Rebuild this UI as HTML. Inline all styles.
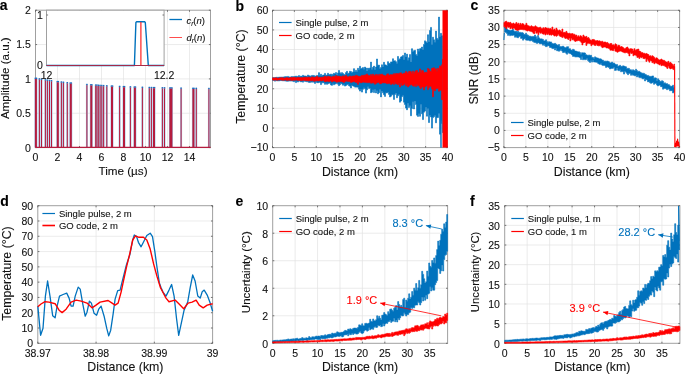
<!DOCTYPE html>
<html><head><meta charset="utf-8"><title>Figure</title>
<style>
html,body{margin:0;padding:0;background:#fff;}
svg{display:block;font-family:"Liberation Sans",sans-serif;filter:blur(0.3px);}
</style></head>
<body>
<svg width="685" height="374" viewBox="0 0 685 374">
<rect x="0" y="0" width="685" height="374" fill="#fff"/>
<line x1="57.5" y1="10.2" x2="57.5" y2="147.6" stroke="#e3e3e3" stroke-width="0.7" />
<line x1="79.5" y1="10.2" x2="79.5" y2="147.6" stroke="#e3e3e3" stroke-width="0.7" />
<line x1="101.5" y1="10.2" x2="101.5" y2="147.6" stroke="#e3e3e3" stroke-width="0.7" />
<line x1="123.49" y1="10.2" x2="123.49" y2="147.6" stroke="#e3e3e3" stroke-width="0.7" />
<line x1="145.49" y1="10.2" x2="145.49" y2="147.6" stroke="#e3e3e3" stroke-width="0.7" />
<line x1="167.49" y1="10.2" x2="167.49" y2="147.6" stroke="#e3e3e3" stroke-width="0.7" />
<line x1="189.49" y1="10.2" x2="189.49" y2="147.6" stroke="#e3e3e3" stroke-width="0.7" />
<line x1="35.5" y1="113.25" x2="210.5" y2="113.25" stroke="#e3e3e3" stroke-width="0.7" />
<line x1="35.5" y1="78.9" x2="210.5" y2="78.9" stroke="#e3e3e3" stroke-width="0.7" />
<line x1="35.5" y1="44.55" x2="210.5" y2="44.55" stroke="#e3e3e3" stroke-width="0.7" />
<rect x="35.5" y="10.2" width="175" height="137.4" fill="none" stroke="#a0a0a0" stroke-width="1"/>
<line x1="35.5" y1="147.6" x2="35.5" y2="146" stroke="#555" stroke-width="0.8" />
<line x1="35.5" y1="10.2" x2="35.5" y2="11.8" stroke="#555" stroke-width="0.8" />
<line x1="57.5" y1="147.6" x2="57.5" y2="146" stroke="#555" stroke-width="0.8" />
<line x1="57.5" y1="10.2" x2="57.5" y2="11.8" stroke="#555" stroke-width="0.8" />
<line x1="79.5" y1="147.6" x2="79.5" y2="146" stroke="#555" stroke-width="0.8" />
<line x1="79.5" y1="10.2" x2="79.5" y2="11.8" stroke="#555" stroke-width="0.8" />
<line x1="101.5" y1="147.6" x2="101.5" y2="146" stroke="#555" stroke-width="0.8" />
<line x1="101.5" y1="10.2" x2="101.5" y2="11.8" stroke="#555" stroke-width="0.8" />
<line x1="123.49" y1="147.6" x2="123.49" y2="146" stroke="#555" stroke-width="0.8" />
<line x1="123.49" y1="10.2" x2="123.49" y2="11.8" stroke="#555" stroke-width="0.8" />
<line x1="145.49" y1="147.6" x2="145.49" y2="146" stroke="#555" stroke-width="0.8" />
<line x1="145.49" y1="10.2" x2="145.49" y2="11.8" stroke="#555" stroke-width="0.8" />
<line x1="167.49" y1="147.6" x2="167.49" y2="146" stroke="#555" stroke-width="0.8" />
<line x1="167.49" y1="10.2" x2="167.49" y2="11.8" stroke="#555" stroke-width="0.8" />
<line x1="189.49" y1="147.6" x2="189.49" y2="146" stroke="#555" stroke-width="0.8" />
<line x1="189.49" y1="10.2" x2="189.49" y2="11.8" stroke="#555" stroke-width="0.8" />
<line x1="35.5" y1="147.6" x2="37.1" y2="147.6" stroke="#555" stroke-width="0.8" />
<line x1="210.5" y1="147.6" x2="208.9" y2="147.6" stroke="#555" stroke-width="0.8" />
<line x1="35.5" y1="113.25" x2="37.1" y2="113.25" stroke="#555" stroke-width="0.8" />
<line x1="210.5" y1="113.25" x2="208.9" y2="113.25" stroke="#555" stroke-width="0.8" />
<line x1="35.5" y1="78.9" x2="37.1" y2="78.9" stroke="#555" stroke-width="0.8" />
<line x1="210.5" y1="78.9" x2="208.9" y2="78.9" stroke="#555" stroke-width="0.8" />
<line x1="35.5" y1="44.55" x2="37.1" y2="44.55" stroke="#555" stroke-width="0.8" />
<line x1="210.5" y1="44.55" x2="208.9" y2="44.55" stroke="#555" stroke-width="0.8" />
<line x1="35.5" y1="10.2" x2="37.1" y2="10.2" stroke="#555" stroke-width="0.8" />
<line x1="210.5" y1="10.2" x2="208.9" y2="10.2" stroke="#555" stroke-width="0.8" />
<rect x="34.4" y="77.88" width="3" height="69.72" fill="#a9c9ea"/>
<rect x="34.7" y="77.58" width="2.4" height="1.4" fill="#1f6fbf"/>
<rect x="38.4" y="78.49" width="2" height="69.11" fill="#a9c9ea"/>
<rect x="38.7" y="78.19" width="1.4" height="1.4" fill="#1f6fbf"/>
<rect x="40.5" y="78.85" width="2" height="68.75" fill="#a9c9ea"/>
<rect x="40.8" y="78.55" width="1.4" height="1.4" fill="#1f6fbf"/>
<rect x="44.4" y="79.47" width="2" height="68.13" fill="#a9c9ea"/>
<rect x="44.7" y="79.17" width="1.4" height="1.4" fill="#1f6fbf"/>
<rect x="46.4" y="79.77" width="2" height="67.83" fill="#a9c9ea"/>
<rect x="46.7" y="79.47" width="1.4" height="1.4" fill="#1f6fbf"/>
<rect x="48.5" y="80.08" width="2" height="67.52" fill="#a9c9ea"/>
<rect x="48.8" y="79.78" width="1.4" height="1.4" fill="#1f6fbf"/>
<rect x="50.5" y="80.36" width="2" height="67.24" fill="#a9c9ea"/>
<rect x="50.8" y="80.06" width="1.4" height="1.4" fill="#1f6fbf"/>
<rect x="56.3" y="81.19" width="3" height="66.41" fill="#a9c9ea"/>
<rect x="56.6" y="80.89" width="2.4" height="1.4" fill="#1f6fbf"/>
<rect x="60.4" y="81.63" width="2" height="65.97" fill="#a9c9ea"/>
<rect x="60.7" y="81.33" width="1.4" height="1.4" fill="#1f6fbf"/>
<rect x="62.4" y="81.86" width="2" height="65.74" fill="#a9c9ea"/>
<rect x="62.7" y="81.56" width="1.4" height="1.4" fill="#1f6fbf"/>
<rect x="66.3" y="82.29" width="2" height="65.31" fill="#a9c9ea"/>
<rect x="66.6" y="81.99" width="1.4" height="1.4" fill="#1f6fbf"/>
<rect x="69.3" y="82.65" width="3" height="64.95" fill="#a9c9ea"/>
<rect x="69.6" y="82.35" width="2.4" height="1.4" fill="#1f6fbf"/>
<rect x="85.9" y="84.08" width="2" height="63.52" fill="#a9c9ea"/>
<rect x="86.2" y="83.78" width="1.4" height="1.4" fill="#1f6fbf"/>
<rect x="89.8" y="84.4" width="3" height="63.2" fill="#a9c9ea"/>
<rect x="90.1" y="84.1" width="2.4" height="1.4" fill="#1f6fbf"/>
<rect x="94.7" y="84.71" width="2" height="62.89" fill="#a9c9ea"/>
<rect x="95" y="84.41" width="1.4" height="1.4" fill="#1f6fbf"/>
<rect x="95.9" y="84.79" width="2" height="62.81" fill="#a9c9ea"/>
<rect x="96.2" y="84.49" width="1.4" height="1.4" fill="#1f6fbf"/>
<rect x="97.3" y="84.88" width="2" height="62.72" fill="#a9c9ea"/>
<rect x="97.6" y="84.58" width="1.4" height="1.4" fill="#1f6fbf"/>
<rect x="99.1" y="84.99" width="2" height="62.61" fill="#a9c9ea"/>
<rect x="99.4" y="84.69" width="1.4" height="1.4" fill="#1f6fbf"/>
<rect x="100.8" y="85.09" width="2" height="62.51" fill="#a9c9ea"/>
<rect x="101.1" y="84.79" width="1.4" height="1.4" fill="#1f6fbf"/>
<rect x="102.6" y="85.2" width="2" height="62.4" fill="#a9c9ea"/>
<rect x="102.9" y="84.9" width="1.4" height="1.4" fill="#1f6fbf"/>
<rect x="105.8" y="85.38" width="2" height="62.22" fill="#a9c9ea"/>
<rect x="106.1" y="85.08" width="1.4" height="1.4" fill="#1f6fbf"/>
<rect x="110.5" y="85.66" width="3" height="61.94" fill="#a9c9ea"/>
<rect x="110.8" y="85.36" width="2.4" height="1.4" fill="#1f6fbf"/>
<rect x="118.6" y="86.02" width="2" height="61.58" fill="#a9c9ea"/>
<rect x="118.9" y="85.72" width="1.4" height="1.4" fill="#1f6fbf"/>
<rect x="122.5" y="86.21" width="3" height="61.39" fill="#a9c9ea"/>
<rect x="122.8" y="85.91" width="2.4" height="1.4" fill="#1f6fbf"/>
<rect x="129.4" y="86.46" width="2" height="61.14" fill="#a9c9ea"/>
<rect x="129.7" y="86.16" width="1.4" height="1.4" fill="#1f6fbf"/>
<rect x="133.4" y="86.62" width="3" height="60.98" fill="#a9c9ea"/>
<rect x="133.7" y="86.32" width="2.4" height="1.4" fill="#1f6fbf"/>
<rect x="141.4" y="86.87" width="2" height="60.73" fill="#a9c9ea"/>
<rect x="141.7" y="86.57" width="1.4" height="1.4" fill="#1f6fbf"/>
<rect x="148.3" y="87.07" width="2" height="60.53" fill="#a9c9ea"/>
<rect x="148.6" y="86.77" width="1.4" height="1.4" fill="#1f6fbf"/>
<rect x="150.4" y="87.12" width="2" height="60.48" fill="#a9c9ea"/>
<rect x="150.7" y="86.82" width="1.4" height="1.4" fill="#1f6fbf"/>
<rect x="152.5" y="87.19" width="3" height="60.41" fill="#a9c9ea"/>
<rect x="152.8" y="86.89" width="2.4" height="1.4" fill="#1f6fbf"/>
<rect x="161.4" y="87.39" width="2" height="60.21" fill="#a9c9ea"/>
<rect x="161.7" y="87.09" width="1.4" height="1.4" fill="#1f6fbf"/>
<rect x="163.5" y="87.43" width="2" height="60.17" fill="#a9c9ea"/>
<rect x="163.8" y="87.13" width="1.4" height="1.4" fill="#1f6fbf"/>
<rect x="168.9" y="87.56" width="4" height="60.04" fill="#a9c9ea"/>
<rect x="169.2" y="87.26" width="3.4" height="1.4" fill="#1f6fbf"/>
<rect x="180.1" y="87.74" width="2" height="59.86" fill="#a9c9ea"/>
<rect x="180.4" y="87.44" width="1.4" height="1.4" fill="#1f6fbf"/>
<rect x="191.9" y="87.92" width="3" height="59.68" fill="#a9c9ea"/>
<rect x="192.2" y="87.62" width="2.4" height="1.4" fill="#1f6fbf"/>
<rect x="195.3" y="87.95" width="2" height="59.65" fill="#a9c9ea"/>
<rect x="195.6" y="87.65" width="1.4" height="1.4" fill="#1f6fbf"/>
<rect x="207.9" y="88.09" width="2" height="59.51" fill="#a9c9ea"/>
<rect x="208.2" y="87.79" width="1.4" height="1.4" fill="#1f6fbf"/>
<rect x="34.9" y="78.98" width="2" height="68.62" fill="#b51c3e"/>
<rect x="38.9" y="79.59" width="1" height="68.01" fill="#b51c3e"/>
<rect x="41" y="79.95" width="1" height="67.65" fill="#b51c3e"/>
<rect x="44.9" y="80.57" width="1" height="67.03" fill="#b51c3e"/>
<rect x="46.9" y="80.87" width="1" height="66.73" fill="#b51c3e"/>
<rect x="49" y="81.18" width="1" height="66.42" fill="#b51c3e"/>
<rect x="51" y="81.46" width="1" height="66.14" fill="#b51c3e"/>
<rect x="56.8" y="82.29" width="2" height="65.31" fill="#b51c3e"/>
<rect x="60.9" y="82.73" width="1" height="64.87" fill="#b51c3e"/>
<rect x="62.9" y="82.96" width="1" height="64.64" fill="#b51c3e"/>
<rect x="66.8" y="83.39" width="1" height="64.21" fill="#b51c3e"/>
<rect x="69.8" y="83.75" width="2" height="63.85" fill="#b51c3e"/>
<rect x="86.4" y="85.18" width="1" height="62.42" fill="#b51c3e"/>
<rect x="90.3" y="85.5" width="2" height="62.1" fill="#b51c3e"/>
<rect x="95.2" y="85.81" width="1" height="61.79" fill="#b51c3e"/>
<rect x="96.4" y="85.89" width="1" height="61.71" fill="#b51c3e"/>
<rect x="97.8" y="85.98" width="1" height="61.62" fill="#b51c3e"/>
<rect x="99.6" y="86.09" width="1" height="61.51" fill="#b51c3e"/>
<rect x="101.3" y="86.19" width="1" height="61.41" fill="#b51c3e"/>
<rect x="103.1" y="86.3" width="1" height="61.3" fill="#b51c3e"/>
<rect x="106.3" y="86.48" width="1" height="61.12" fill="#b51c3e"/>
<rect x="111" y="86.76" width="2" height="60.84" fill="#b51c3e"/>
<rect x="119.1" y="87.12" width="1" height="60.48" fill="#b51c3e"/>
<rect x="123" y="87.31" width="2" height="60.29" fill="#b51c3e"/>
<rect x="129.9" y="87.56" width="1" height="60.04" fill="#b51c3e"/>
<rect x="133.9" y="87.72" width="2" height="59.88" fill="#b51c3e"/>
<rect x="141.9" y="87.97" width="1" height="59.63" fill="#b51c3e"/>
<rect x="148.8" y="88.17" width="1" height="59.43" fill="#b51c3e"/>
<rect x="150.9" y="88.22" width="1" height="59.38" fill="#b51c3e"/>
<rect x="153" y="88.29" width="2" height="59.31" fill="#b51c3e"/>
<rect x="161.9" y="88.49" width="1" height="59.11" fill="#b51c3e"/>
<rect x="164" y="88.53" width="1" height="59.07" fill="#b51c3e"/>
<rect x="169.4" y="88.66" width="3" height="58.94" fill="#b51c3e"/>
<rect x="180.6" y="88.84" width="1" height="58.76" fill="#b51c3e"/>
<rect x="192.4" y="89.02" width="2" height="58.58" fill="#b51c3e"/>
<rect x="195.8" y="89.05" width="1" height="58.55" fill="#b51c3e"/>
<rect x="208.4" y="89.19" width="1" height="58.41" fill="#b51c3e"/>
<line x1="35.5" y1="147.4" x2="210.5" y2="147.4" stroke="#b51c3e" stroke-width="1.2" />
<text x="35.5" y="161" font-size="10.5" text-anchor="middle" fill="#111" stroke="#111" stroke-width="0.1" font-weight="normal" >0</text>
<text x="57.5" y="161" font-size="10.5" text-anchor="middle" fill="#111" stroke="#111" stroke-width="0.1" font-weight="normal" >2</text>
<text x="79.5" y="161" font-size="10.5" text-anchor="middle" fill="#111" stroke="#111" stroke-width="0.1" font-weight="normal" >4</text>
<text x="101.5" y="161" font-size="10.5" text-anchor="middle" fill="#111" stroke="#111" stroke-width="0.1" font-weight="normal" >6</text>
<text x="123.49" y="161" font-size="10.5" text-anchor="middle" fill="#111" stroke="#111" stroke-width="0.1" font-weight="normal" >8</text>
<text x="145.49" y="161" font-size="10.5" text-anchor="middle" fill="#111" stroke="#111" stroke-width="0.1" font-weight="normal" >10</text>
<text x="167.49" y="161" font-size="10.5" text-anchor="middle" fill="#111" stroke="#111" stroke-width="0.1" font-weight="normal" >12</text>
<text x="189.49" y="161" font-size="10.5" text-anchor="middle" fill="#111" stroke="#111" stroke-width="0.1" font-weight="normal" >14</text>
<text x="30.9" y="152.05" font-size="10.5" text-anchor="end" fill="#111" stroke="#111" stroke-width="0.1" font-weight="normal" >0</text>
<text x="30.9" y="117.48" font-size="10.5" text-anchor="end" fill="#111" stroke="#111" stroke-width="0.1" font-weight="normal" >0.5</text>
<text x="30.9" y="82.9" font-size="10.5" text-anchor="end" fill="#111" stroke="#111" stroke-width="0.1" font-weight="normal" >1</text>
<text x="30.9" y="48.33" font-size="10.5" text-anchor="end" fill="#111" stroke="#111" stroke-width="0.1" font-weight="normal" >1.5</text>
<text x="30.9" y="13.75" font-size="10.5" text-anchor="end" fill="#111" stroke="#111" stroke-width="0.1" font-weight="normal" >2</text>
<text x="9.2" y="78.2" font-size="11.6" text-anchor="middle" fill="#111" stroke="#111" stroke-width="0.1" font-weight="normal" transform="rotate(-90 9.2 78.2)">Amplitude (a.u.)</text>
<text x="123" y="175" font-size="11.7" text-anchor="middle" fill="#111" stroke="#111" stroke-width="0.1" font-weight="normal" >Time (µs)</text>
<text x="-0.3" y="10.4" font-size="14" text-anchor="start" fill="#000" stroke="#000" stroke-width="0.1" font-weight="bold" >a</text>
<rect x="46.5" y="10.2" width="117.6" height="55.3" fill="#fff" stroke="#a0a0a0" stroke-width="1"/>
<line x1="46.5" y1="15" x2="48.1" y2="15" stroke="#555" stroke-width="0.8" />
<line x1="164.1" y1="15" x2="162.5" y2="15" stroke="#555" stroke-width="0.8" />
<text x="42.8" y="18.8" font-size="10.5" text-anchor="end" fill="#111" stroke="#111" stroke-width="0.1" font-weight="normal" >1</text>
<text x="42.8" y="69.3" font-size="10.5" text-anchor="end" fill="#111" stroke="#111" stroke-width="0.1" font-weight="normal" >0</text>
<text x="46.5" y="79.3" font-size="10.5" text-anchor="middle" fill="#111" stroke="#111" stroke-width="0.1" font-weight="normal" >12</text>
<text x="164.1" y="79.3" font-size="10.5" text-anchor="middle" fill="#111" stroke="#111" stroke-width="0.1" font-weight="normal" >12.2</text>
<polyline points="46.5,65.5 134.4,65.5 135.9,22.5 136.6,21.7 144.6,21.7 145.3,22.5 148.3,65.5 164.1,65.5" fill="none" stroke="#0072bd" stroke-width="1.4" stroke-linejoin="round" />
<line x1="140.9" y1="65.5" x2="140.9" y2="22" stroke="#ff2020" stroke-width="1.2" />
<line x1="46.5" y1="65.5" x2="164.1" y2="65.5" stroke="#a52a4a" stroke-width="1.1" />
<line x1="169.4" y1="19.5" x2="182" y2="19.5" stroke="#0072bd" stroke-width="1.3" />
<line x1="169.4" y1="37.5" x2="182" y2="37.5" stroke="#ff4d4d" stroke-width="1.0" />
<text x="186.4" y="23.6" font-size="9.5" text-anchor="start" fill="#111" stroke="#111" stroke-width="0.1" font-weight="normal" ><tspan font-style="italic">c</tspan><tspan font-style="italic" font-size="6.5" dy="2">r</tspan><tspan dy="-2">(</tspan><tspan font-style="italic">n</tspan>)</text>
<text x="186.4" y="40.8" font-size="9.5" text-anchor="start" fill="#111" stroke="#111" stroke-width="0.1" font-weight="normal" ><tspan font-style="italic">d</tspan><tspan font-style="italic" font-size="6.5" dy="2">r</tspan><tspan dy="-2">(</tspan><tspan font-style="italic">n</tspan>)</text>
<line x1="294.38" y1="10.3" x2="294.38" y2="147.6" stroke="#e3e3e3" stroke-width="0.7" />
<line x1="316.25" y1="10.3" x2="316.25" y2="147.6" stroke="#e3e3e3" stroke-width="0.7" />
<line x1="338.12" y1="10.3" x2="338.12" y2="147.6" stroke="#e3e3e3" stroke-width="0.7" />
<line x1="360" y1="10.3" x2="360" y2="147.6" stroke="#e3e3e3" stroke-width="0.7" />
<line x1="381.88" y1="10.3" x2="381.88" y2="147.6" stroke="#e3e3e3" stroke-width="0.7" />
<line x1="403.75" y1="10.3" x2="403.75" y2="147.6" stroke="#e3e3e3" stroke-width="0.7" />
<line x1="425.62" y1="10.3" x2="425.62" y2="147.6" stroke="#e3e3e3" stroke-width="0.7" />
<line x1="272.5" y1="127.99" x2="447.5" y2="127.99" stroke="#e3e3e3" stroke-width="0.7" />
<line x1="272.5" y1="108.37" x2="447.5" y2="108.37" stroke="#e3e3e3" stroke-width="0.7" />
<line x1="272.5" y1="88.76" x2="447.5" y2="88.76" stroke="#e3e3e3" stroke-width="0.7" />
<line x1="272.5" y1="69.14" x2="447.5" y2="69.14" stroke="#e3e3e3" stroke-width="0.7" />
<line x1="272.5" y1="49.53" x2="447.5" y2="49.53" stroke="#e3e3e3" stroke-width="0.7" />
<line x1="272.5" y1="29.91" x2="447.5" y2="29.91" stroke="#e3e3e3" stroke-width="0.7" />
<rect x="272.5" y="10.3" width="175" height="137.3" fill="none" stroke="#a0a0a0" stroke-width="1"/>
<line x1="272.5" y1="147.6" x2="272.5" y2="146" stroke="#555" stroke-width="0.8" />
<line x1="272.5" y1="10.3" x2="272.5" y2="11.9" stroke="#555" stroke-width="0.8" />
<line x1="294.38" y1="147.6" x2="294.38" y2="146" stroke="#555" stroke-width="0.8" />
<line x1="294.38" y1="10.3" x2="294.38" y2="11.9" stroke="#555" stroke-width="0.8" />
<line x1="316.25" y1="147.6" x2="316.25" y2="146" stroke="#555" stroke-width="0.8" />
<line x1="316.25" y1="10.3" x2="316.25" y2="11.9" stroke="#555" stroke-width="0.8" />
<line x1="338.12" y1="147.6" x2="338.12" y2="146" stroke="#555" stroke-width="0.8" />
<line x1="338.12" y1="10.3" x2="338.12" y2="11.9" stroke="#555" stroke-width="0.8" />
<line x1="360" y1="147.6" x2="360" y2="146" stroke="#555" stroke-width="0.8" />
<line x1="360" y1="10.3" x2="360" y2="11.9" stroke="#555" stroke-width="0.8" />
<line x1="381.88" y1="147.6" x2="381.88" y2="146" stroke="#555" stroke-width="0.8" />
<line x1="381.88" y1="10.3" x2="381.88" y2="11.9" stroke="#555" stroke-width="0.8" />
<line x1="403.75" y1="147.6" x2="403.75" y2="146" stroke="#555" stroke-width="0.8" />
<line x1="403.75" y1="10.3" x2="403.75" y2="11.9" stroke="#555" stroke-width="0.8" />
<line x1="425.62" y1="147.6" x2="425.62" y2="146" stroke="#555" stroke-width="0.8" />
<line x1="425.62" y1="10.3" x2="425.62" y2="11.9" stroke="#555" stroke-width="0.8" />
<line x1="447.5" y1="147.6" x2="447.5" y2="146" stroke="#555" stroke-width="0.8" />
<line x1="447.5" y1="10.3" x2="447.5" y2="11.9" stroke="#555" stroke-width="0.8" />
<line x1="272.5" y1="147.6" x2="274.1" y2="147.6" stroke="#555" stroke-width="0.8" />
<line x1="447.5" y1="147.6" x2="445.9" y2="147.6" stroke="#555" stroke-width="0.8" />
<line x1="272.5" y1="127.99" x2="274.1" y2="127.99" stroke="#555" stroke-width="0.8" />
<line x1="447.5" y1="127.99" x2="445.9" y2="127.99" stroke="#555" stroke-width="0.8" />
<line x1="272.5" y1="108.37" x2="274.1" y2="108.37" stroke="#555" stroke-width="0.8" />
<line x1="447.5" y1="108.37" x2="445.9" y2="108.37" stroke="#555" stroke-width="0.8" />
<line x1="272.5" y1="88.76" x2="274.1" y2="88.76" stroke="#555" stroke-width="0.8" />
<line x1="447.5" y1="88.76" x2="445.9" y2="88.76" stroke="#555" stroke-width="0.8" />
<line x1="272.5" y1="69.14" x2="274.1" y2="69.14" stroke="#555" stroke-width="0.8" />
<line x1="447.5" y1="69.14" x2="445.9" y2="69.14" stroke="#555" stroke-width="0.8" />
<line x1="272.5" y1="49.53" x2="274.1" y2="49.53" stroke="#555" stroke-width="0.8" />
<line x1="447.5" y1="49.53" x2="445.9" y2="49.53" stroke="#555" stroke-width="0.8" />
<line x1="272.5" y1="29.91" x2="274.1" y2="29.91" stroke="#555" stroke-width="0.8" />
<line x1="447.5" y1="29.91" x2="445.9" y2="29.91" stroke="#555" stroke-width="0.8" />
<line x1="272.5" y1="10.3" x2="274.1" y2="10.3" stroke="#555" stroke-width="0.8" />
<line x1="447.5" y1="10.3" x2="445.9" y2="10.3" stroke="#555" stroke-width="0.8" />
<polygon points="272.5,77.66 273.5,77.66 273.5,77.47 274.5,77.47 274.5,77.59 275.5,77.59 275.5,77.41 276.5,77.41 276.5,77.18 277.5,77.18 277.5,77.62 278.5,77.62 278.5,77.12 279.5,77.12 279.5,77.27 280.5,77.27 280.5,77.02 281.5,77.02 281.5,77.18 282.5,77.18 282.5,77.04 283.5,77.04 283.5,76.95 284.5,76.95 284.5,76.66 285.5,76.66 285.5,76.61 286.5,76.61 286.5,76.71 287.5,76.71 287.5,76.38 288.5,76.38 288.5,77.04 289.5,77.04 289.5,76.92 290.5,76.92 290.5,76.91 291.5,76.91 291.5,76.44 292.5,76.44 292.5,76.95 293.5,76.95 293.5,76.55 294.5,76.55 294.5,76.43 295.5,76.43 295.5,76.12 296.5,76.12 296.5,76.42 297.5,76.42 297.5,76.44 298.5,76.44 298.5,75.62 299.5,75.62 299.5,76.78 300.5,76.78 300.5,76 301.5,76 301.5,76.58 302.5,76.58 302.5,75.3 303.5,75.3 303.5,75.9 304.5,75.9 304.5,75.97 305.5,75.97 305.5,76.05 306.5,76.05 306.5,76.54 307.5,76.54 307.5,74.99 308.5,74.99 308.5,75.67 309.5,75.67 309.5,75.93 310.5,75.93 310.5,76.13 311.5,76.13 311.5,75.47 312.5,75.47 312.5,75.4 313.5,75.4 313.5,75.57 314.5,75.57 314.5,76.35 315.5,76.35 315.5,75.89 316.5,75.89 316.5,75.46 317.5,75.46 317.5,75.49 318.5,75.49 318.5,72.66 319.5,72.66 319.5,75.39 320.5,75.39 320.5,74.26 321.5,74.26 321.5,76.02 322.5,76.02 322.5,75.11 323.5,75.11 323.5,75.05 324.5,75.05 324.5,73.38 325.5,73.38 325.5,75.28 326.5,75.28 326.5,75.07 327.5,75.07 327.5,73.29 328.5,73.29 328.5,74.45 329.5,74.45 329.5,74.42 330.5,74.42 330.5,73.99 331.5,73.99 331.5,75.29 332.5,75.29 332.5,74.14 333.5,74.14 333.5,73.31 334.5,73.31 334.5,74.12 335.5,74.12 335.5,72.57 336.5,72.57 336.5,75.12 337.5,75.12 337.5,72.94 338.5,72.94 338.5,70.43 339.5,70.43 339.5,72.7 340.5,72.7 340.5,73.63 341.5,73.63 341.5,72.61 342.5,72.61 342.5,73.48 343.5,73.48 343.5,74.34 344.5,74.34 344.5,75.1 345.5,75.1 345.5,72.62 346.5,72.62 346.5,71.33 347.5,71.33 347.5,73.78 348.5,73.78 348.5,73.01 349.5,73.01 349.5,71.17 350.5,71.17 350.5,71.48 351.5,71.48 351.5,73 352.5,73 352.5,71.89 353.5,71.89 353.5,68.69 354.5,68.69 354.5,71.77 355.5,71.77 355.5,70.36 356.5,70.36 356.5,71.85 357.5,71.85 357.5,68.28 358.5,68.28 358.5,69.89 359.5,69.89 359.5,66.33 360.5,66.33 360.5,69.01 361.5,69.01 361.5,68.26 362.5,68.26 362.5,67.59 363.5,67.59 363.5,69.33 364.5,69.33 364.5,67.06 365.5,67.06 365.5,68.01 366.5,68.01 366.5,70.94 367.5,70.94 367.5,68.12 368.5,68.12 368.5,69.22 369.5,69.22 369.5,67.93 370.5,67.93 370.5,62.1 371.5,62.1 371.5,69.44 372.5,69.44 372.5,67.32 373.5,67.32 373.5,66.11 374.5,66.11 374.5,69.85 375.5,69.85 375.5,66.98 376.5,66.98 376.5,58.98 377.5,58.98 377.5,65.2 378.5,65.2 378.5,65.1 379.5,65.1 379.5,68.86 380.5,68.86 380.5,67.47 381.5,67.47 381.5,64.8 382.5,64.8 382.5,67.03 383.5,67.03 383.5,62.3 384.5,62.3 384.5,64.87 385.5,64.87 385.5,65.02 386.5,65.02 386.5,66.01 387.5,66.01 387.5,61.65 388.5,61.65 388.5,63.22 389.5,63.22 389.5,63.47 390.5,63.47 390.5,61.88 391.5,61.88 391.5,62.01 392.5,62.01 392.5,58.76 393.5,58.76 393.5,60.88 394.5,60.88 394.5,60.67 395.5,60.67 395.5,61.65 396.5,61.65 396.5,63.61 397.5,63.61 397.5,56.45 398.5,56.45 398.5,59.84 399.5,59.84 399.5,58.78 400.5,58.78 400.5,56.93 401.5,56.93 401.5,56.59 402.5,56.59 402.5,55.47 403.5,55.47 403.5,59.75 404.5,59.75 404.5,52.97 405.5,52.97 405.5,57.04 406.5,57.04 406.5,54.13 407.5,54.13 407.5,60.31 408.5,60.31 408.5,57.72 409.5,57.72 409.5,54.56 410.5,54.56 410.5,61.92 411.5,61.92 411.5,48.69 412.5,48.69 412.5,51.72 413.5,51.72 413.5,50.65 414.5,50.65 414.5,50.37 415.5,50.37 415.5,54.5 416.5,54.5 416.5,55.86 417.5,55.86 417.5,49.03 418.5,49.03 418.5,51.28 419.5,51.28 419.5,48.72 420.5,48.72 420.5,48.38 421.5,48.38 421.5,46.99 422.5,46.99 422.5,49.69 423.5,49.69 423.5,44.39 424.5,44.39 424.5,40.87 425.5,40.87 425.5,41.71 426.5,41.71 426.5,43.05 427.5,43.05 427.5,34.76 428.5,34.76 428.5,42.01 429.5,42.01 429.5,30.44 430.5,30.44 430.5,27.41 431.5,27.41 431.5,44.43 432.5,44.43 432.5,37.16 433.5,37.16 433.5,39.81 434.5,39.81 434.5,42.32 435.5,42.32 435.5,31.11 436.5,31.11 436.5,38.34 437.5,38.34 437.5,39.52 438.5,39.52 438.5,17.12 439.5,17.12 439.5,36.7 440.5,36.7 440.5,33.37 441.5,33.37 441.5,35.74 442.5,35.74 442.5,46.11 442.69,46.11 442.69,132.76 442.5,132.76 442.5,123.44 441.5,123.44 441.5,120.8 440.5,120.8 440.5,134.16 439.5,134.16 439.5,113.43 438.5,113.43 438.5,117.54 437.5,117.54 437.5,117.66 436.5,117.66 436.5,122.83 435.5,122.83 435.5,115.5 434.5,115.5 434.5,116.81 433.5,116.81 433.5,117.6 432.5,117.6 432.5,128.1 431.5,128.1 431.5,116.98 430.5,116.98 430.5,115.62 429.5,115.62 429.5,122.56 428.5,122.56 428.5,108.39 427.5,108.39 427.5,116.18 426.5,116.18 426.5,107.25 425.5,107.25 425.5,111.1 424.5,111.1 424.5,112.16 423.5,112.16 423.5,119.56 422.5,119.56 422.5,113.85 421.5,113.85 421.5,104.13 420.5,104.13 420.5,116.29 419.5,116.29 419.5,113.74 418.5,113.74 418.5,116.4 417.5,116.4 417.5,115.18 416.5,115.18 416.5,104.51 415.5,104.51 415.5,101.05 414.5,101.05 414.5,108.98 413.5,108.98 413.5,101.65 412.5,101.65 412.5,108.52 411.5,108.52 411.5,115.79 410.5,115.79 410.5,105.87 409.5,105.87 409.5,107.52 408.5,107.52 408.5,103.34 407.5,103.34 407.5,109.79 406.5,109.79 406.5,108.08 405.5,108.08 405.5,104.5 404.5,104.5 404.5,102.15 403.5,102.15 403.5,95.51 402.5,95.51 402.5,96.65 401.5,96.65 401.5,101.03 400.5,101.03 400.5,102.15 399.5,102.15 399.5,94.43 398.5,94.43 398.5,95.85 397.5,95.85 397.5,97.78 396.5,97.78 396.5,93.07 395.5,93.07 395.5,94.46 394.5,94.46 394.5,99.43 393.5,99.43 393.5,94.76 392.5,94.76 392.5,94.8 391.5,94.8 391.5,96.22 390.5,96.22 390.5,96.98 389.5,96.98 389.5,94.42 388.5,94.42 388.5,92.08 387.5,92.08 387.5,92.97 386.5,92.97 386.5,92.83 385.5,92.83 385.5,96.38 384.5,96.38 384.5,94.64 383.5,94.64 383.5,92.85 382.5,92.85 382.5,91.06 381.5,91.06 381.5,96.88 380.5,96.88 380.5,89.51 379.5,89.51 379.5,92.64 378.5,92.64 378.5,93.77 377.5,93.77 377.5,90.74 376.5,90.74 376.5,92.96 375.5,92.96 375.5,89.17 374.5,89.17 374.5,92.62 373.5,92.62 373.5,89.63 372.5,89.63 372.5,92.18 371.5,92.18 371.5,92.69 370.5,92.69 370.5,88.34 369.5,88.34 369.5,88.44 368.5,88.44 368.5,86.71 367.5,86.71 367.5,89.86 366.5,89.86 366.5,93.12 365.5,93.12 365.5,88.76 364.5,88.76 364.5,87.65 363.5,87.65 363.5,89.24 362.5,89.24 362.5,92.11 361.5,92.11 361.5,89.33 360.5,89.33 360.5,91.09 359.5,91.09 359.5,89.19 358.5,89.19 358.5,87.3 357.5,87.3 357.5,87.12 356.5,87.12 356.5,87.13 355.5,87.13 355.5,87.1 354.5,87.1 354.5,86.3 353.5,86.3 353.5,85.9 352.5,85.9 352.5,85.21 351.5,85.21 351.5,87.96 350.5,87.96 350.5,86.18 349.5,86.18 349.5,85.65 348.5,85.65 348.5,84.04 347.5,84.04 347.5,84.82 346.5,84.82 346.5,85.38 345.5,85.38 345.5,86.1 344.5,86.1 344.5,84.43 343.5,84.43 343.5,85.27 342.5,85.27 342.5,84.01 341.5,84.01 341.5,83.33 340.5,83.33 340.5,84.65 339.5,84.65 339.5,85.67 338.5,85.67 338.5,84.18 337.5,84.18 337.5,82.63 336.5,82.63 336.5,83.85 335.5,83.85 335.5,84.1 334.5,84.1 334.5,84.8 333.5,84.8 333.5,83.81 332.5,83.81 332.5,85.37 331.5,85.37 331.5,84.95 330.5,84.95 330.5,83.18 329.5,83.18 329.5,83.17 328.5,83.17 328.5,83.75 327.5,83.75 327.5,84.36 326.5,84.36 326.5,83.42 325.5,83.42 325.5,84.36 324.5,84.36 324.5,82.63 323.5,82.63 323.5,82.83 322.5,82.83 322.5,82.85 321.5,82.85 321.5,84.62 320.5,84.62 320.5,82.42 319.5,82.42 319.5,82.18 318.5,82.18 318.5,82.89 317.5,82.89 317.5,82.5 316.5,82.5 316.5,81.85 315.5,81.85 315.5,83.41 314.5,83.41 314.5,82.26 313.5,82.26 313.5,81.76 312.5,81.76 312.5,82.27 311.5,82.27 311.5,81.67 310.5,81.67 310.5,82.52 309.5,82.52 309.5,82.41 308.5,82.41 308.5,81.77 307.5,81.77 307.5,81.87 306.5,81.87 306.5,81.39 305.5,81.39 305.5,81.38 304.5,81.38 304.5,80.64 303.5,80.64 303.5,82.18 302.5,82.18 302.5,81.52 301.5,81.52 301.5,81.93 300.5,81.93 300.5,81.27 299.5,81.27 299.5,80.66 298.5,80.66 298.5,82.06 297.5,82.06 297.5,81.57 296.5,81.57 296.5,82.61 295.5,82.61 295.5,80.94 294.5,80.94 294.5,81.66 293.5,81.66 293.5,81.19 292.5,81.19 292.5,80.89 291.5,80.89 291.5,81.06 290.5,81.06 290.5,81.07 289.5,81.07 289.5,80.93 288.5,80.93 288.5,81.23 287.5,81.23 287.5,81.29 286.5,81.29 286.5,81.09 285.5,81.09 285.5,80.94 284.5,80.94 284.5,80.76 283.5,80.76 283.5,80.83 282.5,80.83 282.5,80.68 281.5,80.68 281.5,80.53 280.5,80.53 280.5,80.65 279.5,80.65 279.5,80.95 278.5,80.95 278.5,80.75 277.5,80.75 277.5,80.92 276.5,80.92 276.5,80.28 275.5,80.28 275.5,81.13 274.5,81.13 274.5,80.35 273.5,80.35 273.5,80.58 272.5,80.58" fill="#0072bd" stroke="#0072bd" stroke-width="0.6" stroke-linejoin="round"/>
<polygon points="272.5,77.86 273.5,77.86 273.5,78.11 274.5,78.11 274.5,77.97 275.5,77.97 275.5,77.66 276.5,77.66 276.5,78.11 277.5,78.11 277.5,78.21 278.5,78.21 278.5,78.02 279.5,78.02 279.5,77.79 280.5,77.79 280.5,77.77 281.5,77.77 281.5,77.66 282.5,77.66 282.5,77.82 283.5,77.82 283.5,78.16 284.5,78.16 284.5,78.07 285.5,78.07 285.5,77.85 286.5,77.85 286.5,77.6 287.5,77.6 287.5,78.01 288.5,78.01 288.5,77.94 289.5,77.94 289.5,77.84 290.5,77.84 290.5,77.33 291.5,77.33 291.5,78.06 292.5,78.06 292.5,77.37 293.5,77.37 293.5,77.28 294.5,77.28 294.5,77.42 295.5,77.42 295.5,77.67 296.5,77.67 296.5,77.77 297.5,77.77 297.5,77.25 298.5,77.25 298.5,77.48 299.5,77.48 299.5,77.54 300.5,77.54 300.5,77.5 301.5,77.5 301.5,77.6 302.5,77.6 302.5,77.83 303.5,77.83 303.5,77.13 304.5,77.13 304.5,77.44 305.5,77.44 305.5,76.96 306.5,76.96 306.5,77.68 307.5,77.68 307.5,77.13 308.5,77.13 308.5,77.01 309.5,77.01 309.5,77.64 310.5,77.64 310.5,77.62 311.5,77.62 311.5,76.85 312.5,76.85 312.5,77.3 313.5,77.3 313.5,77.33 314.5,77.33 314.5,77.26 315.5,77.26 315.5,77.07 316.5,77.07 316.5,76.27 317.5,76.27 317.5,77.4 318.5,77.4 318.5,77.08 319.5,77.08 319.5,77.38 320.5,77.38 320.5,77.37 321.5,77.37 321.5,77.32 322.5,77.32 322.5,76.92 323.5,76.92 323.5,77.37 324.5,77.37 324.5,76.12 325.5,76.12 325.5,76.64 326.5,76.64 326.5,77.16 327.5,77.16 327.5,76.17 328.5,76.17 328.5,76.84 329.5,76.84 329.5,76.47 330.5,76.47 330.5,77.27 331.5,77.27 331.5,76.88 332.5,76.88 332.5,76.27 333.5,76.27 333.5,76.38 334.5,76.38 334.5,76.66 335.5,76.66 335.5,75.48 336.5,75.48 336.5,76.47 337.5,76.47 337.5,76.11 338.5,76.11 338.5,76.19 339.5,76.19 339.5,76.39 340.5,76.39 340.5,76.53 341.5,76.53 341.5,76.74 342.5,76.74 342.5,75.87 343.5,75.87 343.5,76.74 344.5,76.74 344.5,76.25 345.5,76.25 345.5,75.36 346.5,75.36 346.5,76.58 347.5,76.58 347.5,76.93 348.5,76.93 348.5,76.68 349.5,76.68 349.5,75.9 350.5,75.9 350.5,76.65 351.5,76.65 351.5,76.32 352.5,76.32 352.5,75.99 353.5,75.99 353.5,75.95 354.5,75.95 354.5,76.24 355.5,76.24 355.5,75.22 356.5,75.22 356.5,75.63 357.5,75.63 357.5,76.06 358.5,76.06 358.5,76.58 359.5,76.58 359.5,76.32 360.5,76.32 360.5,76.27 361.5,76.27 361.5,75.34 362.5,75.34 362.5,75.98 363.5,75.98 363.5,75.08 364.5,75.08 364.5,75.2 365.5,75.2 365.5,74.83 366.5,74.83 366.5,73.96 367.5,73.96 367.5,75.19 368.5,75.19 368.5,75.54 369.5,75.54 369.5,75.71 370.5,75.71 370.5,74.46 371.5,74.46 371.5,75.91 372.5,75.91 372.5,74.14 373.5,74.14 373.5,75.22 374.5,75.22 374.5,75.28 375.5,75.28 375.5,74.37 376.5,74.37 376.5,75.51 377.5,75.51 377.5,74.56 378.5,74.56 378.5,75.72 379.5,75.72 379.5,74.26 380.5,74.26 380.5,74.76 381.5,74.76 381.5,74.03 382.5,74.03 382.5,75.1 383.5,75.1 383.5,75.34 384.5,75.34 384.5,75.74 385.5,75.74 385.5,75.71 386.5,75.71 386.5,74.36 387.5,74.36 387.5,73.83 388.5,73.83 388.5,75.29 389.5,75.29 389.5,75.08 390.5,75.08 390.5,74.54 391.5,74.54 391.5,74.9 392.5,74.9 392.5,74.45 393.5,74.45 393.5,73.63 394.5,73.63 394.5,74.67 395.5,74.67 395.5,73.52 396.5,73.52 396.5,73.86 397.5,73.86 397.5,73.46 398.5,73.46 398.5,74.22 399.5,74.22 399.5,72.9 400.5,72.9 400.5,72.81 401.5,72.81 401.5,73.9 402.5,73.9 402.5,74.11 403.5,74.11 403.5,73.08 404.5,73.08 404.5,73.35 405.5,73.35 405.5,71.43 406.5,71.43 406.5,72.52 407.5,72.52 407.5,73.72 408.5,73.72 408.5,71.47 409.5,71.47 409.5,71.34 410.5,71.34 410.5,71.76 411.5,71.76 411.5,73.44 412.5,73.44 412.5,71.13 413.5,71.13 413.5,73.46 414.5,73.46 414.5,71.77 415.5,71.77 415.5,70.63 416.5,70.63 416.5,70.52 417.5,70.52 417.5,72.7 418.5,72.7 418.5,72.23 419.5,72.23 419.5,68.95 420.5,68.95 420.5,72.13 421.5,72.13 421.5,70.39 422.5,70.39 422.5,70.63 423.5,70.63 423.5,72.55 424.5,72.55 424.5,72.83 425.5,72.83 425.5,72.07 426.5,72.07 426.5,73.12 427.5,73.12 427.5,68.45 428.5,68.45 428.5,69.3 429.5,69.3 429.5,71 430.5,71 430.5,71.69 431.5,71.69 431.5,68.41 432.5,68.41 432.5,68.08 433.5,68.08 433.5,67.66 434.5,67.66 434.5,69.34 435.5,69.34 435.5,68.82 436.5,68.82 436.5,71.21 437.5,71.21 437.5,68.18 438.5,68.18 438.5,69.54 439.5,69.54 439.5,65.9 440.5,65.9 440.5,66.45 441.5,66.45 441.5,64.85 442.5,64.85 442.5,59.17 442.69,59.17 442.69,96.12 442.5,96.12 442.5,99.71 441.5,99.71 441.5,90.4 440.5,90.4 440.5,89.95 439.5,89.95 439.5,91.24 438.5,91.24 438.5,88.07 437.5,88.07 437.5,88.63 436.5,88.63 436.5,88.38 435.5,88.38 435.5,90.76 434.5,90.76 434.5,89.69 433.5,89.69 433.5,96.74 432.5,96.74 432.5,88.9 431.5,88.9 431.5,86.55 430.5,86.55 430.5,86.12 429.5,86.12 429.5,87.81 428.5,87.81 428.5,89.57 427.5,89.57 427.5,85.41 426.5,85.41 426.5,86.1 425.5,86.1 425.5,87 424.5,87 424.5,89.95 423.5,89.95 423.5,87 422.5,87 422.5,86.9 421.5,86.9 421.5,88.58 420.5,88.58 420.5,87.28 419.5,87.28 419.5,85.57 418.5,85.57 418.5,85.79 417.5,85.79 417.5,84.5 416.5,84.5 416.5,86.57 415.5,86.57 415.5,84.63 414.5,84.63 414.5,86.15 413.5,86.15 413.5,85.89 412.5,85.89 412.5,84.92 411.5,84.92 411.5,84.28 410.5,84.28 410.5,85.21 409.5,85.21 409.5,85.94 408.5,85.94 408.5,86.98 407.5,86.98 407.5,84.62 406.5,84.62 406.5,85.83 405.5,85.83 405.5,83.22 404.5,83.22 404.5,84.44 403.5,84.44 403.5,85.06 402.5,85.06 402.5,85.39 401.5,85.39 401.5,82.96 400.5,82.96 400.5,87.02 399.5,87.02 399.5,83.29 398.5,83.29 398.5,84.67 397.5,84.67 397.5,83.84 396.5,83.84 396.5,83.88 395.5,83.88 395.5,82.23 394.5,82.23 394.5,84.41 393.5,84.41 393.5,83.17 392.5,83.17 392.5,83.97 391.5,83.97 391.5,84.57 390.5,84.57 390.5,82.92 389.5,82.92 389.5,83.6 388.5,83.6 388.5,83.55 387.5,83.55 387.5,83.74 386.5,83.74 386.5,83.01 385.5,83.01 385.5,82.94 384.5,82.94 384.5,83.01 383.5,83.01 383.5,82.71 382.5,82.71 382.5,82.97 381.5,82.97 381.5,83.64 380.5,83.64 380.5,83.77 379.5,83.77 379.5,82.43 378.5,82.43 378.5,82.45 377.5,82.45 377.5,82.85 376.5,82.85 376.5,83.41 375.5,83.41 375.5,84.23 374.5,84.23 374.5,83.12 373.5,83.12 373.5,82.77 372.5,82.77 372.5,83.11 371.5,83.11 371.5,83.26 370.5,83.26 370.5,82.36 369.5,82.36 369.5,82.75 368.5,82.75 368.5,82.49 367.5,82.49 367.5,82.81 366.5,82.81 366.5,82.02 365.5,82.02 365.5,82.52 364.5,82.52 364.5,82.21 363.5,82.21 363.5,81.92 362.5,81.92 362.5,82.41 361.5,82.41 361.5,82.89 360.5,82.89 360.5,82.37 359.5,82.37 359.5,81.7 358.5,81.7 358.5,84.36 357.5,84.36 357.5,82.55 356.5,82.55 356.5,82.39 355.5,82.39 355.5,82.03 354.5,82.03 354.5,80.99 353.5,80.99 353.5,81.98 352.5,81.98 352.5,82.02 351.5,82.02 351.5,82.41 350.5,82.41 350.5,81.51 349.5,81.51 349.5,81.41 348.5,81.41 348.5,81.43 347.5,81.43 347.5,80.83 346.5,80.83 346.5,81.32 345.5,81.32 345.5,81.42 344.5,81.42 344.5,82.45 343.5,82.45 343.5,82.05 342.5,82.05 342.5,81.64 341.5,81.64 341.5,81.55 340.5,81.55 340.5,81.24 339.5,81.24 339.5,81.89 338.5,81.89 338.5,81.62 337.5,81.62 337.5,82.19 336.5,82.19 336.5,81.68 335.5,81.68 335.5,81.33 334.5,81.33 334.5,81.04 333.5,81.04 333.5,81.21 332.5,81.21 332.5,82 331.5,82 331.5,80.81 330.5,80.81 330.5,80.98 329.5,80.98 329.5,81.7 328.5,81.7 328.5,81.21 327.5,81.21 327.5,81.3 326.5,81.3 326.5,81.41 325.5,81.41 325.5,81.65 324.5,81.65 324.5,80.77 323.5,80.77 323.5,80.37 322.5,80.37 322.5,80.9 321.5,80.9 321.5,80.9 320.5,80.9 320.5,80.56 319.5,80.56 319.5,80.93 318.5,80.93 318.5,80.94 317.5,80.94 317.5,80.51 316.5,80.51 316.5,81.08 315.5,81.08 315.5,80.82 314.5,80.82 314.5,81.26 313.5,81.26 313.5,80.48 312.5,80.48 312.5,80.68 311.5,80.68 311.5,80.97 310.5,80.97 310.5,80.31 309.5,80.31 309.5,80.99 308.5,80.99 308.5,80.82 307.5,80.82 307.5,80.42 306.5,80.42 306.5,80.73 305.5,80.73 305.5,80.42 304.5,80.42 304.5,80.41 303.5,80.41 303.5,80.09 302.5,80.09 302.5,80.64 301.5,80.64 301.5,80.65 300.5,80.65 300.5,80.45 299.5,80.45 299.5,80.45 298.5,80.45 298.5,80.43 297.5,80.43 297.5,80.04 296.5,80.04 296.5,80.09 295.5,80.09 295.5,80.35 294.5,80.35 294.5,80.27 293.5,80.27 293.5,80.24 292.5,80.24 292.5,80.56 291.5,80.56 291.5,79.81 290.5,79.81 290.5,80.32 289.5,80.32 289.5,80.16 288.5,80.16 288.5,80.23 287.5,80.23 287.5,80.54 286.5,80.54 286.5,80.01 285.5,80.01 285.5,79.89 284.5,79.89 284.5,80.3 283.5,80.3 283.5,80.14 282.5,80.14 282.5,80.16 281.5,80.16 281.5,79.85 280.5,79.85 280.5,79.93 279.5,79.93 279.5,80.09 278.5,80.09 278.5,80.03 277.5,80.03 277.5,80.33 276.5,80.33 276.5,80.08 275.5,80.08 275.5,80.1 274.5,80.1 274.5,80.21 273.5,80.21 273.5,80.06 272.5,80.06" fill="#ff0000" stroke="#ff0000" stroke-width="0.6" stroke-linejoin="round"/>
<polyline points="440.6,120 441,147.6 441.4,100" fill="none" stroke="#0072bd" stroke-width="0.9" stroke-linejoin="round" />
<rect x="442.5" y="10.3" width="5.3" height="137.3" fill="#ff0000"/>
<text x="272.5" y="161" font-size="10.5" text-anchor="middle" fill="#111" stroke="#111" stroke-width="0.1" font-weight="normal" >0</text>
<text x="294.38" y="161" font-size="10.5" text-anchor="middle" fill="#111" stroke="#111" stroke-width="0.1" font-weight="normal" >5</text>
<text x="316.25" y="161" font-size="10.5" text-anchor="middle" fill="#111" stroke="#111" stroke-width="0.1" font-weight="normal" >10</text>
<text x="338.12" y="161" font-size="10.5" text-anchor="middle" fill="#111" stroke="#111" stroke-width="0.1" font-weight="normal" >15</text>
<text x="360" y="161" font-size="10.5" text-anchor="middle" fill="#111" stroke="#111" stroke-width="0.1" font-weight="normal" >20</text>
<text x="381.88" y="161" font-size="10.5" text-anchor="middle" fill="#111" stroke="#111" stroke-width="0.1" font-weight="normal" >25</text>
<text x="403.75" y="161" font-size="10.5" text-anchor="middle" fill="#111" stroke="#111" stroke-width="0.1" font-weight="normal" >30</text>
<text x="425.62" y="161" font-size="10.5" text-anchor="middle" fill="#111" stroke="#111" stroke-width="0.1" font-weight="normal" >35</text>
<text x="447.5" y="161" font-size="10.5" text-anchor="middle" fill="#111" stroke="#111" stroke-width="0.1" font-weight="normal" >40</text>
<text x="268.4" y="151.4" font-size="10.5" text-anchor="end" fill="#111" stroke="#111" stroke-width="0.1" font-weight="normal" >−10</text>
<text x="268.4" y="131.79" font-size="10.5" text-anchor="end" fill="#111" stroke="#111" stroke-width="0.1" font-weight="normal" >0</text>
<text x="268.4" y="112.17" font-size="10.5" text-anchor="end" fill="#111" stroke="#111" stroke-width="0.1" font-weight="normal" >10</text>
<text x="268.4" y="92.56" font-size="10.5" text-anchor="end" fill="#111" stroke="#111" stroke-width="0.1" font-weight="normal" >20</text>
<text x="268.4" y="72.94" font-size="10.5" text-anchor="end" fill="#111" stroke="#111" stroke-width="0.1" font-weight="normal" >30</text>
<text x="268.4" y="53.33" font-size="10.5" text-anchor="end" fill="#111" stroke="#111" stroke-width="0.1" font-weight="normal" >40</text>
<text x="268.4" y="33.71" font-size="10.5" text-anchor="end" fill="#111" stroke="#111" stroke-width="0.1" font-weight="normal" >50</text>
<text x="268.4" y="14.1" font-size="10.5" text-anchor="end" fill="#111" stroke="#111" stroke-width="0.1" font-weight="normal" >60</text>
<text x="245.2" y="76.6" font-size="12.3" text-anchor="middle" fill="#111" stroke="#111" stroke-width="0.1" font-weight="normal" transform="rotate(-90 245.2 76.6)">Temperature (°C)</text>
<text x="360" y="176.2" font-size="12.35" text-anchor="middle" fill="#111" stroke="#111" stroke-width="0.1" font-weight="normal" >Distance (km)</text>
<text x="235.6" y="10.6" font-size="14" text-anchor="start" fill="#000" stroke="#000" stroke-width="0.1" font-weight="bold" >b</text>
<line x1="279" y1="22.5" x2="291.6" y2="22.5" stroke="#0072bd" stroke-width="1.2" />
<text x="295.5" y="25.8" font-size="9.5" text-anchor="start" fill="#111" stroke="#111" stroke-width="0.1" font-weight="normal" >Single pulse, 2 m</text>
<line x1="279" y1="35.5" x2="291.6" y2="35.5" stroke="#ff0000" stroke-width="1.2" />
<text x="295.5" y="38.7" font-size="9.5" text-anchor="start" fill="#111" stroke="#111" stroke-width="0.1" font-weight="normal" >GO code, 2 m</text>
<line x1="525.86" y1="10.3" x2="525.86" y2="147.6" stroke="#e3e3e3" stroke-width="0.7" />
<line x1="547.83" y1="10.3" x2="547.83" y2="147.6" stroke="#e3e3e3" stroke-width="0.7" />
<line x1="569.79" y1="10.3" x2="569.79" y2="147.6" stroke="#e3e3e3" stroke-width="0.7" />
<line x1="591.75" y1="10.3" x2="591.75" y2="147.6" stroke="#e3e3e3" stroke-width="0.7" />
<line x1="613.71" y1="10.3" x2="613.71" y2="147.6" stroke="#e3e3e3" stroke-width="0.7" />
<line x1="635.67" y1="10.3" x2="635.67" y2="147.6" stroke="#e3e3e3" stroke-width="0.7" />
<line x1="657.64" y1="10.3" x2="657.64" y2="147.6" stroke="#e3e3e3" stroke-width="0.7" />
<line x1="503.9" y1="130.44" x2="679.6" y2="130.44" stroke="#e3e3e3" stroke-width="0.7" />
<line x1="503.9" y1="113.28" x2="679.6" y2="113.28" stroke="#e3e3e3" stroke-width="0.7" />
<line x1="503.9" y1="96.11" x2="679.6" y2="96.11" stroke="#e3e3e3" stroke-width="0.7" />
<line x1="503.9" y1="78.95" x2="679.6" y2="78.95" stroke="#e3e3e3" stroke-width="0.7" />
<line x1="503.9" y1="61.79" x2="679.6" y2="61.79" stroke="#e3e3e3" stroke-width="0.7" />
<line x1="503.9" y1="44.62" x2="679.6" y2="44.62" stroke="#e3e3e3" stroke-width="0.7" />
<line x1="503.9" y1="27.46" x2="679.6" y2="27.46" stroke="#e3e3e3" stroke-width="0.7" />
<rect x="503.9" y="10.3" width="175.7" height="137.3" fill="none" stroke="#a0a0a0" stroke-width="1"/>
<line x1="503.9" y1="147.6" x2="503.9" y2="146" stroke="#555" stroke-width="0.8" />
<line x1="503.9" y1="10.3" x2="503.9" y2="11.9" stroke="#555" stroke-width="0.8" />
<line x1="525.86" y1="147.6" x2="525.86" y2="146" stroke="#555" stroke-width="0.8" />
<line x1="525.86" y1="10.3" x2="525.86" y2="11.9" stroke="#555" stroke-width="0.8" />
<line x1="547.83" y1="147.6" x2="547.83" y2="146" stroke="#555" stroke-width="0.8" />
<line x1="547.83" y1="10.3" x2="547.83" y2="11.9" stroke="#555" stroke-width="0.8" />
<line x1="569.79" y1="147.6" x2="569.79" y2="146" stroke="#555" stroke-width="0.8" />
<line x1="569.79" y1="10.3" x2="569.79" y2="11.9" stroke="#555" stroke-width="0.8" />
<line x1="591.75" y1="147.6" x2="591.75" y2="146" stroke="#555" stroke-width="0.8" />
<line x1="591.75" y1="10.3" x2="591.75" y2="11.9" stroke="#555" stroke-width="0.8" />
<line x1="613.71" y1="147.6" x2="613.71" y2="146" stroke="#555" stroke-width="0.8" />
<line x1="613.71" y1="10.3" x2="613.71" y2="11.9" stroke="#555" stroke-width="0.8" />
<line x1="635.67" y1="147.6" x2="635.67" y2="146" stroke="#555" stroke-width="0.8" />
<line x1="635.67" y1="10.3" x2="635.67" y2="11.9" stroke="#555" stroke-width="0.8" />
<line x1="657.64" y1="147.6" x2="657.64" y2="146" stroke="#555" stroke-width="0.8" />
<line x1="657.64" y1="10.3" x2="657.64" y2="11.9" stroke="#555" stroke-width="0.8" />
<line x1="679.6" y1="147.6" x2="679.6" y2="146" stroke="#555" stroke-width="0.8" />
<line x1="679.6" y1="10.3" x2="679.6" y2="11.9" stroke="#555" stroke-width="0.8" />
<line x1="503.9" y1="147.6" x2="505.5" y2="147.6" stroke="#555" stroke-width="0.8" />
<line x1="679.6" y1="147.6" x2="678" y2="147.6" stroke="#555" stroke-width="0.8" />
<line x1="503.9" y1="130.44" x2="505.5" y2="130.44" stroke="#555" stroke-width="0.8" />
<line x1="679.6" y1="130.44" x2="678" y2="130.44" stroke="#555" stroke-width="0.8" />
<line x1="503.9" y1="113.28" x2="505.5" y2="113.28" stroke="#555" stroke-width="0.8" />
<line x1="679.6" y1="113.28" x2="678" y2="113.28" stroke="#555" stroke-width="0.8" />
<line x1="503.9" y1="96.11" x2="505.5" y2="96.11" stroke="#555" stroke-width="0.8" />
<line x1="679.6" y1="96.11" x2="678" y2="96.11" stroke="#555" stroke-width="0.8" />
<line x1="503.9" y1="78.95" x2="505.5" y2="78.95" stroke="#555" stroke-width="0.8" />
<line x1="679.6" y1="78.95" x2="678" y2="78.95" stroke="#555" stroke-width="0.8" />
<line x1="503.9" y1="61.79" x2="505.5" y2="61.79" stroke="#555" stroke-width="0.8" />
<line x1="679.6" y1="61.79" x2="678" y2="61.79" stroke="#555" stroke-width="0.8" />
<line x1="503.9" y1="44.62" x2="505.5" y2="44.62" stroke="#555" stroke-width="0.8" />
<line x1="679.6" y1="44.62" x2="678" y2="44.62" stroke="#555" stroke-width="0.8" />
<line x1="503.9" y1="27.46" x2="505.5" y2="27.46" stroke="#555" stroke-width="0.8" />
<line x1="679.6" y1="27.46" x2="678" y2="27.46" stroke="#555" stroke-width="0.8" />
<line x1="503.9" y1="10.3" x2="505.5" y2="10.3" stroke="#555" stroke-width="0.8" />
<line x1="679.6" y1="10.3" x2="678" y2="10.3" stroke="#555" stroke-width="0.8" />
<polygon points="504.56,27.62 505.56,27.62 505.56,27.77 506.56,27.77 506.56,28.91 507.56,28.91 507.56,30.05 508.56,30.05 508.56,30 509.56,30 509.56,30.82 510.56,30.82 510.56,30.21 511.56,30.21 511.56,30.12 512.56,30.12 512.56,29.21 513.56,29.21 513.56,30.91 514.56,30.91 514.56,32.12 515.56,32.12 515.56,31.02 516.56,31.02 516.56,32.29 517.56,32.29 517.56,31.16 518.56,31.16 518.56,32.45 519.56,32.45 519.56,32.28 520.56,32.28 520.56,33.07 521.56,33.07 521.56,32.5 522.56,32.5 522.56,32.99 523.56,32.99 523.56,34.24 524.56,34.24 524.56,34.6 525.56,34.6 525.56,33.24 526.56,33.24 526.56,34.72 527.56,34.72 527.56,35.23 528.56,35.23 528.56,36.16 529.56,36.16 529.56,36.06 530.56,36.06 530.56,36.76 531.56,36.76 531.56,36.4 532.56,36.4 532.56,36.43 533.56,36.43 533.56,36.58 534.56,36.58 534.56,35.01 535.56,35.01 535.56,36.64 536.56,36.64 536.56,38.42 537.56,38.42 537.56,35.43 538.56,35.43 538.56,37.85 539.56,37.85 539.56,38.99 540.56,38.99 540.56,38.82 541.56,38.82 541.56,38.98 542.56,38.98 542.56,39.41 543.56,39.41 543.56,40.9 544.56,40.9 544.56,40.75 545.56,40.75 545.56,39.75 546.56,39.75 546.56,41.62 547.56,41.62 547.56,42.4 548.56,42.4 548.56,41.64 549.56,41.64 549.56,42.04 550.56,42.04 550.56,41.91 551.56,41.91 551.56,43.25 552.56,43.25 552.56,43.67 553.56,43.67 553.56,43.78 554.56,43.78 554.56,43.29 555.56,43.29 555.56,44.17 556.56,44.17 556.56,45.06 557.56,45.06 557.56,45.13 558.56,45.13 558.56,44.54 559.56,44.54 559.56,46.45 560.56,46.45 560.56,46.68 561.56,46.68 561.56,46.46 562.56,46.46 562.56,46.11 563.56,46.11 563.56,46.93 564.56,46.93 564.56,47.72 565.56,47.72 565.56,47.59 566.56,47.59 566.56,46.73 567.56,46.73 567.56,46.67 568.56,46.67 568.56,48.83 569.56,48.83 569.56,48.7 570.56,48.7 570.56,49.93 571.56,49.93 571.56,50.29 572.56,50.29 572.56,49.2 573.56,49.2 573.56,49.73 574.56,49.73 574.56,51.09 575.56,51.09 575.56,51.07 576.56,51.07 576.56,51.59 577.56,51.59 577.56,52 578.56,52 578.56,51.79 579.56,51.79 579.56,52.58 580.56,52.58 580.56,54.27 581.56,54.27 581.56,52.63 582.56,52.63 582.56,52.93 583.56,52.93 583.56,52.8 584.56,52.8 584.56,53.12 585.56,53.12 585.56,54.65 586.56,54.65 586.56,55.02 587.56,55.02 587.56,55.85 588.56,55.85 588.56,54.92 589.56,54.92 589.56,55.49 590.56,55.49 590.56,55.29 591.56,55.29 591.56,57.2 592.56,57.2 592.56,57.5 593.56,57.5 593.56,58.48 594.56,58.48 594.56,56.85 595.56,56.85 595.56,57.61 596.56,57.61 596.56,57.93 597.56,57.93 597.56,58.09 598.56,58.09 598.56,59.02 599.56,59.02 599.56,58.72 600.56,58.72 600.56,59.01 601.56,59.01 601.56,60.01 602.56,60.01 602.56,60.15 603.56,60.15 603.56,61.47 604.56,61.47 604.56,60.92 605.56,60.92 605.56,61.85 606.56,61.85 606.56,60.93 607.56,60.93 607.56,61.26 608.56,61.26 608.56,61.82 609.56,61.82 609.56,63.11 610.56,63.11 610.56,62.73 611.56,62.73 611.56,61.99 612.56,61.99 612.56,63.28 613.56,63.28 613.56,62.97 614.56,62.97 614.56,64 615.56,64 615.56,64.76 616.56,64.76 616.56,64.42 617.56,64.42 617.56,66.14 618.56,66.14 618.56,65.93 619.56,65.93 619.56,65.26 620.56,65.26 620.56,66.28 621.56,66.28 621.56,66.57 622.56,66.57 622.56,65.83 623.56,65.83 623.56,66.06 624.56,66.06 624.56,66.59 625.56,66.59 625.56,66.82 626.56,66.82 626.56,68.8 627.56,68.8 627.56,68.25 628.56,68.25 628.56,68.42 629.56,68.42 629.56,69.66 630.56,69.66 630.56,69.8 631.56,69.8 631.56,70.39 632.56,70.39 632.56,69.73 633.56,69.73 633.56,70.35 634.56,70.35 634.56,70.63 635.56,70.63 635.56,69.28 636.56,69.28 636.56,70.58 637.56,70.58 637.56,71.71 638.56,71.71 638.56,71.13 639.56,71.13 639.56,71.97 640.56,71.97 640.56,72.71 641.56,72.71 641.56,73.25 642.56,73.25 642.56,73.16 643.56,73.16 643.56,73.39 644.56,73.39 644.56,74.26 645.56,74.26 645.56,74.67 646.56,74.67 646.56,75.54 647.56,75.54 647.56,75.4 648.56,75.4 648.56,76.18 649.56,76.18 649.56,76.29 650.56,76.29 650.56,76.7 651.56,76.7 651.56,76.12 652.56,76.12 652.56,75.91 653.56,75.91 653.56,78.25 654.56,78.25 654.56,77.81 655.56,77.81 655.56,78.04 656.56,78.04 656.56,80.63 657.56,80.63 657.56,78.77 658.56,78.77 658.56,80.11 659.56,80.11 659.56,81.18 660.56,81.18 660.56,81.46 661.56,81.46 661.56,80.67 662.56,80.67 662.56,81.31 663.56,81.31 663.56,83.26 664.56,83.26 664.56,82.8 665.56,82.8 665.56,84.06 666.56,84.06 666.56,83.6 667.56,83.6 667.56,84.48 668.56,84.48 668.56,84.63 669.56,84.63 669.56,85.85 670.56,85.85 670.56,86.6 671.56,86.6 671.56,86.09 672.56,86.09 672.56,85.19 673.56,85.19 673.56,87.49 674.15,87.49 674.15,91.9 673.56,91.9 673.56,93.01 672.56,93.01 672.56,90.81 671.56,90.81 671.56,90.39 670.56,90.39 670.56,90.84 669.56,90.84 669.56,89.32 668.56,89.32 668.56,88.75 667.56,88.75 667.56,89.71 666.56,89.71 666.56,88.69 665.56,88.69 665.56,88.16 664.56,88.16 664.56,88.59 663.56,88.59 663.56,89.18 662.56,89.18 662.56,86.64 661.56,86.64 661.56,86.66 660.56,86.66 660.56,85.3 659.56,85.3 659.56,84.91 658.56,84.91 658.56,85.95 657.56,85.95 657.56,85.07 656.56,85.07 656.56,83.45 655.56,83.45 655.56,83.14 654.56,83.14 654.56,84.35 653.56,84.35 653.56,82.2 652.56,82.2 652.56,82.95 651.56,82.95 651.56,83.35 650.56,83.35 650.56,82.71 649.56,82.71 649.56,81.42 648.56,81.42 648.56,81.88 647.56,81.88 647.56,79.99 646.56,79.99 646.56,79.31 645.56,79.31 645.56,80.99 644.56,80.99 644.56,77.91 643.56,77.91 643.56,79.01 642.56,79.01 642.56,78.19 641.56,78.19 641.56,77.56 640.56,77.56 640.56,77.83 639.56,77.83 639.56,77.24 638.56,77.24 638.56,75.79 637.56,75.79 637.56,77.04 636.56,77.04 636.56,75 635.56,75 635.56,76.01 634.56,76.01 634.56,75.28 633.56,75.28 633.56,75.26 632.56,75.26 632.56,74.53 631.56,74.53 631.56,75.33 630.56,75.33 630.56,73.54 629.56,73.54 629.56,73.21 628.56,73.21 628.56,74.72 627.56,74.72 627.56,73.38 626.56,73.38 626.56,72.18 625.56,72.18 625.56,71 624.56,71 624.56,74.08 623.56,74.08 623.56,71.75 622.56,71.75 622.56,71.3 621.56,71.3 621.56,71.83 620.56,71.83 620.56,69.68 619.56,69.68 619.56,70.77 618.56,70.77 618.56,70.2 617.56,70.2 617.56,68.04 616.56,68.04 616.56,70.22 615.56,70.22 615.56,70.45 614.56,70.45 614.56,67.27 613.56,67.27 613.56,68.31 612.56,68.31 612.56,68.47 611.56,68.47 611.56,68.14 610.56,68.14 610.56,68.97 609.56,68.97 609.56,67.55 608.56,67.55 608.56,67.02 607.56,67.02 607.56,66.79 606.56,66.79 606.56,67.44 605.56,67.44 605.56,65.65 604.56,65.65 604.56,65.01 603.56,65.01 603.56,65.6 602.56,65.6 602.56,65.04 601.56,65.04 601.56,63.46 600.56,63.46 600.56,64.39 599.56,64.39 599.56,63.99 598.56,63.99 598.56,63.35 597.56,63.35 597.56,62.34 596.56,62.34 596.56,62.13 595.56,62.13 595.56,61.97 594.56,61.97 594.56,62.02 593.56,62.02 593.56,60.34 592.56,60.34 592.56,62.11 591.56,62.11 591.56,60.4 590.56,60.4 590.56,62.45 589.56,62.45 589.56,61.5 588.56,61.5 588.56,60.6 587.56,60.6 587.56,58.54 586.56,58.54 586.56,59.61 585.56,59.61 585.56,59.83 584.56,59.83 584.56,58.94 583.56,58.94 583.56,59.85 582.56,59.85 582.56,56.86 581.56,56.86 581.56,59.52 580.56,59.52 580.56,57.65 579.56,57.65 579.56,57 578.56,57 578.56,57.04 577.56,57.04 577.56,56.73 576.56,56.73 576.56,57.04 575.56,57.04 575.56,56.84 574.56,56.84 574.56,55.98 573.56,55.98 573.56,56.46 572.56,56.46 572.56,54.89 571.56,54.89 571.56,53.93 570.56,53.93 570.56,53.41 569.56,53.41 569.56,53.21 568.56,53.21 568.56,52.41 567.56,52.41 567.56,54.22 566.56,54.22 566.56,53.14 565.56,53.14 565.56,51.69 564.56,51.69 564.56,52.47 563.56,52.47 563.56,52.54 562.56,52.54 562.56,51.07 561.56,51.07 561.56,49.45 560.56,49.45 560.56,50.58 559.56,50.58 559.56,51.23 558.56,51.23 558.56,50.81 557.56,50.81 557.56,50.71 556.56,50.71 556.56,48.37 555.56,48.37 555.56,50.01 554.56,50.01 554.56,47.93 553.56,47.93 553.56,48.63 552.56,48.63 552.56,48.2 551.56,48.2 551.56,47.53 550.56,47.53 550.56,47.5 549.56,47.5 549.56,45.88 548.56,45.88 548.56,45.51 547.56,45.51 547.56,46.29 546.56,46.29 546.56,46.71 545.56,46.71 545.56,45.72 544.56,45.72 544.56,44.35 543.56,44.35 543.56,45.26 542.56,45.26 542.56,44 541.56,44 541.56,43.53 540.56,43.53 540.56,43.94 539.56,43.94 539.56,42.9 538.56,42.9 538.56,42.72 537.56,42.72 537.56,43.44 536.56,43.44 536.56,42.77 535.56,42.77 535.56,42.61 534.56,42.61 534.56,42.2 533.56,42.2 533.56,41.61 532.56,41.61 532.56,40.73 531.56,40.73 531.56,40.37 530.56,40.37 530.56,41.04 529.56,41.04 529.56,40.23 528.56,40.23 528.56,40.32 527.56,40.32 527.56,40.28 526.56,40.28 526.56,40.05 525.56,40.05 525.56,38.56 524.56,38.56 524.56,39.07 523.56,39.07 523.56,40.15 522.56,40.15 522.56,38.19 521.56,38.19 521.56,38.42 520.56,38.42 520.56,36.11 519.56,36.11 519.56,36.72 518.56,36.72 518.56,37.83 517.56,37.83 517.56,37.39 516.56,37.39 516.56,36.45 515.56,36.45 515.56,37.27 514.56,37.27 514.56,35.14 513.56,35.14 513.56,35.15 512.56,35.15 512.56,35.46 511.56,35.46 511.56,34.97 510.56,34.97 510.56,35.76 509.56,35.76 509.56,34.43 508.56,34.43 508.56,35.38 507.56,35.38 507.56,33.48 506.56,33.48 506.56,32.38 505.56,32.38 505.56,32.25 504.56,32.25" fill="#0072bd" stroke="#0072bd" stroke-width="0.6" stroke-linejoin="round"/>
<polygon points="503.9,22.49 504.9,22.49 504.9,21.61 505.9,21.61 505.9,21.21 506.9,21.21 506.9,22.54 507.9,22.54 507.9,22.29 508.9,22.29 508.9,22.7 509.9,22.7 509.9,22.34 510.9,22.34 510.9,23.56 511.9,23.56 511.9,23.73 512.9,23.73 512.9,23 513.9,23 513.9,23.96 514.9,23.96 514.9,23.77 515.9,23.77 515.9,22.48 516.9,22.48 516.9,24.01 517.9,24.01 517.9,23.16 518.9,23.16 518.9,24.82 519.9,24.82 519.9,23.3 520.9,23.3 520.9,24.59 521.9,24.59 521.9,23.52 522.9,23.52 522.9,23.9 523.9,23.9 523.9,25.19 524.9,25.19 524.9,24.97 525.9,24.97 525.9,23.3 526.9,23.3 526.9,25.23 527.9,25.23 527.9,25.85 528.9,25.85 528.9,26.15 529.9,26.15 529.9,26.61 530.9,26.61 530.9,25.76 531.9,25.76 531.9,26.49 532.9,26.49 532.9,26.71 533.9,26.71 533.9,26.72 534.9,26.72 534.9,25.87 535.9,25.87 535.9,26.74 536.9,26.74 536.9,27.23 537.9,27.23 537.9,27.87 538.9,27.87 538.9,27.41 539.9,27.41 539.9,27.16 540.9,27.16 540.9,28.58 541.9,28.58 541.9,28.39 542.9,28.39 542.9,27.73 543.9,27.73 543.9,28.5 544.9,28.5 544.9,27.52 545.9,27.52 545.9,28.05 546.9,28.05 546.9,28.19 547.9,28.19 547.9,28.17 548.9,28.17 548.9,28.85 549.9,28.85 549.9,28.55 550.9,28.55 550.9,29.17 551.9,29.17 551.9,27 552.9,27 552.9,29.95 553.9,29.95 553.9,28.96 554.9,28.96 554.9,30.24 555.9,30.24 555.9,28.12 556.9,28.12 556.9,29.79 557.9,29.79 557.9,30.68 558.9,30.68 558.9,29.91 559.9,29.91 559.9,30.74 560.9,30.74 560.9,31.63 561.9,31.63 561.9,29.01 562.9,29.01 562.9,32.57 563.9,32.57 563.9,32.33 564.9,32.33 564.9,32.46 565.9,32.46 565.9,31.37 566.9,31.37 566.9,32.95 567.9,32.95 567.9,33.48 568.9,33.48 568.9,33.2 569.9,33.2 569.9,33.84 570.9,33.84 570.9,33.72 571.9,33.72 571.9,33.57 572.9,33.57 572.9,34.14 573.9,34.14 573.9,34.21 574.9,34.21 574.9,35.19 575.9,35.19 575.9,35.06 576.9,35.06 576.9,36.73 577.9,36.73 577.9,35.79 578.9,35.79 578.9,36.96 579.9,36.96 579.9,35.64 580.9,35.64 580.9,36.24 581.9,36.24 581.9,37.29 582.9,37.29 582.9,35.05 583.9,35.05 583.9,36.45 584.9,36.45 584.9,36.98 585.9,36.98 585.9,36.33 586.9,36.33 586.9,37.89 587.9,37.89 587.9,37.48 588.9,37.48 588.9,38.74 589.9,38.74 589.9,40.07 590.9,40.07 590.9,40.52 591.9,40.52 591.9,39.49 592.9,39.49 592.9,39.42 593.9,39.42 593.9,39.86 594.9,39.86 594.9,40.68 595.9,40.68 595.9,40.65 596.9,40.65 596.9,40.51 597.9,40.51 597.9,41.05 598.9,41.05 598.9,40.83 599.9,40.83 599.9,41.36 600.9,41.36 600.9,41.38 601.9,41.38 601.9,41.23 602.9,41.23 602.9,42.3 603.9,42.3 603.9,42.02 604.9,42.02 604.9,42.03 605.9,42.03 605.9,42.75 606.9,42.75 606.9,42.41 607.9,42.41 607.9,43.6 608.9,43.6 608.9,44.24 609.9,44.24 609.9,43.54 610.9,43.54 610.9,43.44 611.9,43.44 611.9,45.1 612.9,45.1 612.9,44.75 613.9,44.75 613.9,45.55 614.9,45.55 614.9,43.86 615.9,43.86 615.9,44.62 616.9,44.62 616.9,46.43 617.9,46.43 617.9,45.25 618.9,45.25 618.9,45.45 619.9,45.45 619.9,47.12 620.9,47.12 620.9,46.5 621.9,46.5 621.9,46.95 622.9,46.95 622.9,47.72 623.9,47.72 623.9,48.65 624.9,48.65 624.9,48.53 625.9,48.53 625.9,47.62 626.9,47.62 626.9,47.01 627.9,47.01 627.9,48.62 628.9,48.62 628.9,49.28 629.9,49.28 629.9,48.68 630.9,48.68 630.9,48.8 631.9,48.8 631.9,49.12 632.9,49.12 632.9,50.71 633.9,50.71 633.9,48.64 634.9,48.64 634.9,50.31 635.9,50.31 635.9,49.71 636.9,49.71 636.9,49.34 637.9,49.34 637.9,49.09 638.9,49.09 638.9,51.11 639.9,51.11 639.9,51.47 640.9,51.47 640.9,52.61 641.9,52.61 641.9,52.62 642.9,52.62 642.9,53.3 643.9,53.3 643.9,53.26 644.9,53.26 644.9,53.94 645.9,53.94 645.9,53.44 646.9,53.44 646.9,54.04 647.9,54.04 647.9,54.58 648.9,54.58 648.9,55.97 649.9,55.97 649.9,55.69 650.9,55.69 650.9,56.39 651.9,56.39 651.9,55.72 652.9,55.72 652.9,56.49 653.9,56.49 653.9,57.43 654.9,57.43 654.9,58.85 655.9,58.85 655.9,57.82 656.9,57.82 656.9,58.32 657.9,58.32 657.9,59.49 658.9,59.49 658.9,59.94 659.9,59.94 659.9,59.76 660.9,59.76 660.9,59 661.9,59 661.9,59.89 662.9,59.89 662.9,60.33 663.9,60.33 663.9,60.38 664.9,60.38 664.9,61.58 665.9,61.58 665.9,62.1 666.9,62.1 666.9,62.21 667.9,62.21 667.9,61.24 668.9,61.24 668.9,63 669.9,63 669.9,62.33 670.9,62.33 670.9,63.34 671.9,63.34 671.9,64.26 672.9,64.26 672.9,65.42 673.9,65.42 673.9,64.01 674.59,64.01 674.59,68.35 673.9,68.35 673.9,69.61 672.9,69.61 672.9,68.53 671.9,68.53 671.9,68.42 670.9,68.42 670.9,68.89 669.9,68.89 669.9,68.1 668.9,68.1 668.9,66.25 667.9,66.25 667.9,68.52 666.9,68.52 666.9,67.15 665.9,67.15 665.9,66.49 664.9,66.49 664.9,65.76 663.9,65.76 663.9,65.6 662.9,65.6 662.9,65.18 661.9,65.18 661.9,65.73 660.9,65.73 660.9,64.13 659.9,64.13 659.9,64.93 658.9,64.93 658.9,63.9 657.9,63.9 657.9,63.71 656.9,63.71 656.9,62.95 655.9,62.95 655.9,62.84 654.9,62.84 654.9,63.75 653.9,63.75 653.9,62.61 652.9,62.61 652.9,62.7 651.9,62.7 651.9,60.93 650.9,60.93 650.9,60.43 649.9,60.43 649.9,62.16 648.9,62.16 648.9,60.69 647.9,60.69 647.9,59.24 646.9,59.24 646.9,61.44 645.9,61.44 645.9,58.35 644.9,58.35 644.9,58.78 643.9,58.78 643.9,58.53 642.9,58.53 642.9,57.11 641.9,57.11 641.9,57.79 640.9,57.79 640.9,57.05 639.9,57.05 639.9,58.48 638.9,58.48 638.9,57.16 637.9,57.16 637.9,57.41 636.9,57.41 636.9,55.7 635.9,55.7 635.9,54.98 634.9,54.98 634.9,54.97 633.9,54.97 633.9,55.78 632.9,55.78 632.9,53.17 631.9,53.17 631.9,53.57 630.9,53.57 630.9,52.86 629.9,52.86 629.9,55.89 628.9,55.89 628.9,53.53 627.9,53.53 627.9,52.75 626.9,52.75 626.9,52.5 625.9,52.5 625.9,52.87 624.9,52.87 624.9,52.77 623.9,52.77 623.9,52.15 622.9,52.15 622.9,51.93 621.9,51.93 621.9,51.23 620.9,51.23 620.9,51.11 619.9,51.11 619.9,51.29 618.9,51.29 618.9,51.67 617.9,51.67 617.9,52.28 616.9,52.28 616.9,51.45 615.9,51.45 615.9,51.21 614.9,51.21 614.9,48.65 613.9,48.65 613.9,50.57 612.9,50.57 612.9,50.55 611.9,50.55 611.9,50.08 610.9,50.08 610.9,50.19 609.9,50.19 609.9,48.77 608.9,48.77 608.9,48.2 607.9,48.2 607.9,47.88 606.9,47.88 606.9,47.95 605.9,47.95 605.9,46.89 604.9,46.89 604.9,47.1 603.9,47.1 603.9,47.18 602.9,47.18 602.9,47.67 601.9,47.67 601.9,46.61 600.9,46.61 600.9,45.16 599.9,45.16 599.9,45.76 598.9,45.76 598.9,45.86 597.9,45.86 597.9,45.5 596.9,45.5 596.9,44.26 595.9,44.26 595.9,45.55 594.9,45.55 594.9,45.26 593.9,45.26 593.9,44.16 592.9,44.16 592.9,44.46 591.9,44.46 591.9,45.74 590.9,45.74 590.9,43.71 589.9,43.71 589.9,43.39 588.9,43.39 588.9,43.29 587.9,43.29 587.9,43.55 586.9,43.55 586.9,45.43 585.9,45.43 585.9,42.05 584.9,42.05 584.9,42.53 583.9,42.53 583.9,42.88 582.9,42.88 582.9,44.88 581.9,44.88 581.9,42.4 580.9,42.4 580.9,41.37 579.9,41.37 579.9,40.7 578.9,40.7 578.9,40.4 577.9,40.4 577.9,40.85 576.9,40.85 576.9,40.9 575.9,40.9 575.9,41.44 574.9,41.44 574.9,40.75 573.9,40.75 573.9,39.46 572.9,39.46 572.9,39.87 571.9,39.87 571.9,38.13 570.9,38.13 570.9,40.95 569.9,40.95 569.9,38 568.9,38 568.9,39.5 567.9,39.5 567.9,38.79 566.9,38.79 566.9,38.07 565.9,38.07 565.9,38.48 564.9,38.48 564.9,37.56 563.9,37.56 563.9,36.38 562.9,36.38 562.9,37.58 561.9,37.58 561.9,36.65 560.9,36.65 560.9,36.5 559.9,36.5 559.9,35.71 558.9,35.71 558.9,34.19 557.9,34.19 557.9,35.56 556.9,35.56 556.9,36.25 555.9,36.25 555.9,35.46 554.9,35.46 554.9,36.06 553.9,36.06 553.9,34.88 552.9,34.88 552.9,34.45 551.9,34.45 551.9,35.17 550.9,35.17 550.9,34.72 549.9,34.72 549.9,35 548.9,35 548.9,33.65 547.9,33.65 547.9,34.4 546.9,34.4 546.9,33.84 545.9,33.84 545.9,35.03 544.9,35.03 544.9,33.69 543.9,33.69 543.9,34.15 542.9,34.15 542.9,33.63 541.9,33.63 541.9,32.7 540.9,32.7 540.9,33.19 539.9,33.19 539.9,32.26 538.9,32.26 538.9,34.74 537.9,34.74 537.9,32.82 536.9,32.82 536.9,33.18 535.9,33.18 535.9,30.96 534.9,30.96 534.9,33.66 533.9,33.66 533.9,33.26 532.9,33.26 532.9,31.95 531.9,31.95 531.9,31.62 530.9,31.62 530.9,31.22 529.9,31.22 529.9,31.05 528.9,31.05 528.9,30.47 527.9,30.47 527.9,31.12 526.9,31.12 526.9,30.48 525.9,30.48 525.9,30.04 524.9,30.04 524.9,29.8 523.9,29.8 523.9,29.86 522.9,29.86 522.9,29.6 521.9,29.6 521.9,29.42 520.9,29.42 520.9,29.44 519.9,29.44 519.9,29.7 518.9,29.7 518.9,30.14 517.9,30.14 517.9,30.46 516.9,30.46 516.9,30.1 515.9,30.1 515.9,29.63 514.9,29.63 514.9,28.34 513.9,28.34 513.9,28.23 512.9,28.23 512.9,28.92 511.9,28.92 511.9,27.71 510.9,27.71 510.9,28.79 509.9,28.79 509.9,27.02 508.9,27.02 508.9,27.34 507.9,27.34 507.9,26.82 506.9,26.82 506.9,28.75 505.9,28.75 505.9,27.28 504.9,27.28 504.9,26.75 503.9,26.75" fill="#ff0000" stroke="#ff0000" stroke-width="0.6" stroke-linejoin="round"/>
<polyline points="503.9,40 504.34,33" fill="none" stroke="#0072bd" stroke-width="1" stroke-linejoin="round" />
<polyline points="674.6,66.25 674.9,147" fill="none" stroke="#ff0000" stroke-width="1.1" stroke-linejoin="round" />
<polyline points="674.9,147 675.5,143 676,147 676.6,141 677.1,146 677.6,139 678.1,146 678.6,142 679.2,147" fill="none" stroke="#ff0000" stroke-width="1.1" stroke-linejoin="round" />
<text x="503.9" y="161" font-size="10.5" text-anchor="middle" fill="#111" stroke="#111" stroke-width="0.1" font-weight="normal" >0</text>
<text x="525.86" y="161" font-size="10.5" text-anchor="middle" fill="#111" stroke="#111" stroke-width="0.1" font-weight="normal" >5</text>
<text x="547.83" y="161" font-size="10.5" text-anchor="middle" fill="#111" stroke="#111" stroke-width="0.1" font-weight="normal" >10</text>
<text x="569.79" y="161" font-size="10.5" text-anchor="middle" fill="#111" stroke="#111" stroke-width="0.1" font-weight="normal" >15</text>
<text x="591.75" y="161" font-size="10.5" text-anchor="middle" fill="#111" stroke="#111" stroke-width="0.1" font-weight="normal" >20</text>
<text x="613.71" y="161" font-size="10.5" text-anchor="middle" fill="#111" stroke="#111" stroke-width="0.1" font-weight="normal" >25</text>
<text x="635.67" y="161" font-size="10.5" text-anchor="middle" fill="#111" stroke="#111" stroke-width="0.1" font-weight="normal" >30</text>
<text x="657.64" y="161" font-size="10.5" text-anchor="middle" fill="#111" stroke="#111" stroke-width="0.1" font-weight="normal" >35</text>
<text x="679.6" y="161" font-size="10.5" text-anchor="middle" fill="#111" stroke="#111" stroke-width="0.1" font-weight="normal" >40</text>
<text x="499.8" y="151.4" font-size="10.5" text-anchor="end" fill="#111" stroke="#111" stroke-width="0.1" font-weight="normal" >−5</text>
<text x="499.8" y="134.24" font-size="10.5" text-anchor="end" fill="#111" stroke="#111" stroke-width="0.1" font-weight="normal" >0</text>
<text x="499.8" y="117.08" font-size="10.5" text-anchor="end" fill="#111" stroke="#111" stroke-width="0.1" font-weight="normal" >5</text>
<text x="499.8" y="99.91" font-size="10.5" text-anchor="end" fill="#111" stroke="#111" stroke-width="0.1" font-weight="normal" >10</text>
<text x="499.8" y="82.75" font-size="10.5" text-anchor="end" fill="#111" stroke="#111" stroke-width="0.1" font-weight="normal" >15</text>
<text x="499.8" y="65.59" font-size="10.5" text-anchor="end" fill="#111" stroke="#111" stroke-width="0.1" font-weight="normal" >20</text>
<text x="499.8" y="48.42" font-size="10.5" text-anchor="end" fill="#111" stroke="#111" stroke-width="0.1" font-weight="normal" >25</text>
<text x="499.8" y="31.26" font-size="10.5" text-anchor="end" fill="#111" stroke="#111" stroke-width="0.1" font-weight="normal" >30</text>
<text x="499.8" y="14.1" font-size="10.5" text-anchor="end" fill="#111" stroke="#111" stroke-width="0.1" font-weight="normal" >35</text>
<text x="477.9" y="78.3" font-size="12.3" text-anchor="middle" fill="#111" stroke="#111" stroke-width="0.1" font-weight="normal" transform="rotate(-90 477.9 78.3)">SNR (dB)</text>
<text x="591.8" y="176.2" font-size="12.35" text-anchor="middle" fill="#111" stroke="#111" stroke-width="0.1" font-weight="normal" >Distance (km)</text>
<text x="470.6" y="10.4" font-size="14" text-anchor="start" fill="#000" stroke="#000" stroke-width="0.1" font-weight="bold" >c</text>
<line x1="511" y1="122.5" x2="523.6" y2="122.5" stroke="#0072bd" stroke-width="1.2" />
<text x="527.5" y="125.7" font-size="9.5" text-anchor="start" fill="#111" stroke="#111" stroke-width="0.1" font-weight="normal" >Single pulse, 2 m</text>
<line x1="511" y1="135.5" x2="523.6" y2="135.5" stroke="#ff0000" stroke-width="1.2" />
<text x="527.5" y="138.6" font-size="9.5" text-anchor="start" fill="#111" stroke="#111" stroke-width="0.1" font-weight="normal" >GO code, 2 m</text>
<line x1="96.07" y1="205.7" x2="96.07" y2="343.3" stroke="#e3e3e3" stroke-width="0.7" />
<line x1="154.33" y1="205.7" x2="154.33" y2="343.3" stroke="#e3e3e3" stroke-width="0.7" />
<line x1="37.8" y1="328.01" x2="212.6" y2="328.01" stroke="#e3e3e3" stroke-width="0.7" />
<line x1="37.8" y1="312.72" x2="212.6" y2="312.72" stroke="#e3e3e3" stroke-width="0.7" />
<line x1="37.8" y1="297.43" x2="212.6" y2="297.43" stroke="#e3e3e3" stroke-width="0.7" />
<line x1="37.8" y1="282.14" x2="212.6" y2="282.14" stroke="#e3e3e3" stroke-width="0.7" />
<line x1="37.8" y1="266.86" x2="212.6" y2="266.86" stroke="#e3e3e3" stroke-width="0.7" />
<line x1="37.8" y1="251.57" x2="212.6" y2="251.57" stroke="#e3e3e3" stroke-width="0.7" />
<line x1="37.8" y1="236.28" x2="212.6" y2="236.28" stroke="#e3e3e3" stroke-width="0.7" />
<line x1="37.8" y1="220.99" x2="212.6" y2="220.99" stroke="#e3e3e3" stroke-width="0.7" />
<rect x="37.8" y="205.7" width="174.8" height="137.6" fill="none" stroke="#a0a0a0" stroke-width="1"/>
<line x1="37.8" y1="343.3" x2="37.8" y2="341.7" stroke="#555" stroke-width="0.8" />
<line x1="37.8" y1="205.7" x2="37.8" y2="207.3" stroke="#555" stroke-width="0.8" />
<line x1="96.07" y1="343.3" x2="96.07" y2="341.7" stroke="#555" stroke-width="0.8" />
<line x1="96.07" y1="205.7" x2="96.07" y2="207.3" stroke="#555" stroke-width="0.8" />
<line x1="154.33" y1="343.3" x2="154.33" y2="341.7" stroke="#555" stroke-width="0.8" />
<line x1="154.33" y1="205.7" x2="154.33" y2="207.3" stroke="#555" stroke-width="0.8" />
<line x1="212.6" y1="343.3" x2="212.6" y2="341.7" stroke="#555" stroke-width="0.8" />
<line x1="212.6" y1="205.7" x2="212.6" y2="207.3" stroke="#555" stroke-width="0.8" />
<line x1="37.8" y1="343.3" x2="39.4" y2="343.3" stroke="#555" stroke-width="0.8" />
<line x1="212.6" y1="343.3" x2="211" y2="343.3" stroke="#555" stroke-width="0.8" />
<line x1="37.8" y1="328.01" x2="39.4" y2="328.01" stroke="#555" stroke-width="0.8" />
<line x1="212.6" y1="328.01" x2="211" y2="328.01" stroke="#555" stroke-width="0.8" />
<line x1="37.8" y1="312.72" x2="39.4" y2="312.72" stroke="#555" stroke-width="0.8" />
<line x1="212.6" y1="312.72" x2="211" y2="312.72" stroke="#555" stroke-width="0.8" />
<line x1="37.8" y1="297.43" x2="39.4" y2="297.43" stroke="#555" stroke-width="0.8" />
<line x1="212.6" y1="297.43" x2="211" y2="297.43" stroke="#555" stroke-width="0.8" />
<line x1="37.8" y1="282.14" x2="39.4" y2="282.14" stroke="#555" stroke-width="0.8" />
<line x1="212.6" y1="282.14" x2="211" y2="282.14" stroke="#555" stroke-width="0.8" />
<line x1="37.8" y1="266.86" x2="39.4" y2="266.86" stroke="#555" stroke-width="0.8" />
<line x1="212.6" y1="266.86" x2="211" y2="266.86" stroke="#555" stroke-width="0.8" />
<line x1="37.8" y1="251.57" x2="39.4" y2="251.57" stroke="#555" stroke-width="0.8" />
<line x1="212.6" y1="251.57" x2="211" y2="251.57" stroke="#555" stroke-width="0.8" />
<line x1="37.8" y1="236.28" x2="39.4" y2="236.28" stroke="#555" stroke-width="0.8" />
<line x1="212.6" y1="236.28" x2="211" y2="236.28" stroke="#555" stroke-width="0.8" />
<line x1="37.8" y1="220.99" x2="39.4" y2="220.99" stroke="#555" stroke-width="0.8" />
<line x1="212.6" y1="220.99" x2="211" y2="220.99" stroke="#555" stroke-width="0.8" />
<line x1="37.8" y1="205.7" x2="39.4" y2="205.7" stroke="#555" stroke-width="0.8" />
<line x1="212.6" y1="205.7" x2="211" y2="205.7" stroke="#555" stroke-width="0.8" />
<polyline points="37.8,306.1 40.6,335.3 43,328.2 45.4,296.1 47.6,281 50,296.1 52.7,315.8 55.1,317.8 57.1,306.1 59.5,296.1 63.1,294.5 66.7,293.1 69.1,298.1 71.1,306.1 73.1,306.1 75.2,296.1 78.2,287.1 80.2,289.1 82.8,304.1 85.2,316.2 87,312.2 89.4,301.1 91.4,303.1 94,313.2 96.6,315.2 98.7,309.2 101.1,306.1 104.1,316.2 106.7,328.2 108.7,335.9 110.7,330.2 113.1,314.2 115.1,299.1 117.7,290.6 120.1,290.1 121.8,283.2 126.4,265 129.8,254.8 132.7,240 134.3,235 136.6,236.6 138.4,242.3 141.1,246.8 143.4,242.3 146.8,235.5 150.2,233.2 152.5,236.6 154.8,251.4 157,267.3 159.3,282.7 161,287.5 163,292.1 166,296.1 169,290.1 171.6,284.5 174.1,296.1 176.5,318.2 178.7,335.3 181.1,324.2 184.1,310.2 187.7,302.1 190.1,288.1 192.7,275 195.1,281 197.8,296.1 200.2,298.1 202.2,291.7 204.2,290.1 207.2,295.1 210.2,303.1 212.6,311.2" fill="none" stroke="#0072bd" stroke-width="1.3" stroke-linejoin="round" />
<polyline points="37.8,306.7 41,304 45,301.7 49,302.1 55.1,303.7 59.1,310.2 62.1,312.6 66.1,309.2 71.1,302.1 76.2,300.1 81.2,301.1 87,303.1 89,305.1 92,307.8 96,305.1 100.1,302.1 108.1,300.5 112.1,303.1 115.1,305.1 118.1,303.1 121.1,292.1 123,283.2 126.4,267.3 129.8,253.6 132.7,240 135.5,235.9 138.9,237.3 143.4,237.3 146.8,240 150.2,249.1 153.6,263.9 157,276.4 160.5,287.7 163,292.5 166,298.1 169,301.7 175.1,300.1 179.1,304.1 183.7,308.8 188.1,303.1 192.1,302.1 196.1,300.1 199.2,305.1 203.2,307.8 207.2,305.1 212.6,303.7" fill="none" stroke="#ff0000" stroke-width="1.4" stroke-linejoin="round" />
<text x="37.8" y="357" font-size="10.5" text-anchor="middle" fill="#111" stroke="#111" stroke-width="0.1" font-weight="normal" >38.97</text>
<text x="96.07" y="357" font-size="10.5" text-anchor="middle" fill="#111" stroke="#111" stroke-width="0.1" font-weight="normal" >38.98</text>
<text x="154.33" y="357" font-size="10.5" text-anchor="middle" fill="#111" stroke="#111" stroke-width="0.1" font-weight="normal" >38.99</text>
<text x="212.6" y="357" font-size="10.5" text-anchor="middle" fill="#111" stroke="#111" stroke-width="0.1" font-weight="normal" >39</text>
<text x="33.2" y="347.3" font-size="10.5" text-anchor="end" fill="#111" stroke="#111" stroke-width="0.1" font-weight="normal" >0</text>
<text x="33.2" y="332.01" font-size="10.5" text-anchor="end" fill="#111" stroke="#111" stroke-width="0.1" font-weight="normal" >10</text>
<text x="33.2" y="316.72" font-size="10.5" text-anchor="end" fill="#111" stroke="#111" stroke-width="0.1" font-weight="normal" >20</text>
<text x="33.2" y="301.43" font-size="10.5" text-anchor="end" fill="#111" stroke="#111" stroke-width="0.1" font-weight="normal" >30</text>
<text x="33.2" y="286.14" font-size="10.5" text-anchor="end" fill="#111" stroke="#111" stroke-width="0.1" font-weight="normal" >40</text>
<text x="33.2" y="270.86" font-size="10.5" text-anchor="end" fill="#111" stroke="#111" stroke-width="0.1" font-weight="normal" >50</text>
<text x="33.2" y="255.57" font-size="10.5" text-anchor="end" fill="#111" stroke="#111" stroke-width="0.1" font-weight="normal" >60</text>
<text x="33.2" y="240.28" font-size="10.5" text-anchor="end" fill="#111" stroke="#111" stroke-width="0.1" font-weight="normal" >70</text>
<text x="33.2" y="224.99" font-size="10.5" text-anchor="end" fill="#111" stroke="#111" stroke-width="0.1" font-weight="normal" >80</text>
<text x="33.2" y="209.7" font-size="10.5" text-anchor="end" fill="#111" stroke="#111" stroke-width="0.1" font-weight="normal" >90</text>
<text x="11.5" y="273.6" font-size="12.3" text-anchor="middle" fill="#111" stroke="#111" stroke-width="0.1" font-weight="normal" transform="rotate(-90 11.5 273.6)">Temperature (°C)</text>
<text x="125.4" y="371" font-size="12.35" text-anchor="middle" fill="#111" stroke="#111" stroke-width="0.1" font-weight="normal" >Distance (km)</text>
<text x="0.3" y="205.8" font-size="14" text-anchor="start" fill="#000" stroke="#000" stroke-width="0.1" font-weight="bold" >d</text>
<line x1="42.4" y1="213.5" x2="55" y2="213.5" stroke="#0072bd" stroke-width="1.2" />
<text x="58.9" y="216.6" font-size="9.5" text-anchor="start" fill="#111" stroke="#111" stroke-width="0.1" font-weight="normal" >Single pulse, 2 m</text>
<line x1="42.4" y1="225.5" x2="55" y2="225.5" stroke="#ff0000" stroke-width="1.6" />
<text x="58.9" y="229.2" font-size="9.5" text-anchor="start" fill="#111" stroke="#111" stroke-width="0.1" font-weight="normal" >GO code, 2 m</text>
<line x1="295.12" y1="205.7" x2="295.12" y2="343.3" stroke="#e3e3e3" stroke-width="0.7" />
<line x1="317.55" y1="205.7" x2="317.55" y2="343.3" stroke="#e3e3e3" stroke-width="0.7" />
<line x1="339.97" y1="205.7" x2="339.97" y2="343.3" stroke="#e3e3e3" stroke-width="0.7" />
<line x1="362.39" y1="205.7" x2="362.39" y2="343.3" stroke="#e3e3e3" stroke-width="0.7" />
<line x1="384.82" y1="205.7" x2="384.82" y2="343.3" stroke="#e3e3e3" stroke-width="0.7" />
<line x1="407.24" y1="205.7" x2="407.24" y2="343.3" stroke="#e3e3e3" stroke-width="0.7" />
<line x1="429.66" y1="205.7" x2="429.66" y2="343.3" stroke="#e3e3e3" stroke-width="0.7" />
<line x1="272.7" y1="315.78" x2="447.6" y2="315.78" stroke="#e3e3e3" stroke-width="0.7" />
<line x1="272.7" y1="288.26" x2="447.6" y2="288.26" stroke="#e3e3e3" stroke-width="0.7" />
<line x1="272.7" y1="260.74" x2="447.6" y2="260.74" stroke="#e3e3e3" stroke-width="0.7" />
<line x1="272.7" y1="233.22" x2="447.6" y2="233.22" stroke="#e3e3e3" stroke-width="0.7" />
<rect x="272.7" y="205.7" width="174.9" height="137.6" fill="none" stroke="#a0a0a0" stroke-width="1"/>
<line x1="272.7" y1="343.3" x2="272.7" y2="341.7" stroke="#555" stroke-width="0.8" />
<line x1="272.7" y1="205.7" x2="272.7" y2="207.3" stroke="#555" stroke-width="0.8" />
<line x1="295.12" y1="343.3" x2="295.12" y2="341.7" stroke="#555" stroke-width="0.8" />
<line x1="295.12" y1="205.7" x2="295.12" y2="207.3" stroke="#555" stroke-width="0.8" />
<line x1="317.55" y1="343.3" x2="317.55" y2="341.7" stroke="#555" stroke-width="0.8" />
<line x1="317.55" y1="205.7" x2="317.55" y2="207.3" stroke="#555" stroke-width="0.8" />
<line x1="339.97" y1="343.3" x2="339.97" y2="341.7" stroke="#555" stroke-width="0.8" />
<line x1="339.97" y1="205.7" x2="339.97" y2="207.3" stroke="#555" stroke-width="0.8" />
<line x1="362.39" y1="343.3" x2="362.39" y2="341.7" stroke="#555" stroke-width="0.8" />
<line x1="362.39" y1="205.7" x2="362.39" y2="207.3" stroke="#555" stroke-width="0.8" />
<line x1="384.82" y1="343.3" x2="384.82" y2="341.7" stroke="#555" stroke-width="0.8" />
<line x1="384.82" y1="205.7" x2="384.82" y2="207.3" stroke="#555" stroke-width="0.8" />
<line x1="407.24" y1="343.3" x2="407.24" y2="341.7" stroke="#555" stroke-width="0.8" />
<line x1="407.24" y1="205.7" x2="407.24" y2="207.3" stroke="#555" stroke-width="0.8" />
<line x1="429.66" y1="343.3" x2="429.66" y2="341.7" stroke="#555" stroke-width="0.8" />
<line x1="429.66" y1="205.7" x2="429.66" y2="207.3" stroke="#555" stroke-width="0.8" />
<line x1="272.7" y1="343.3" x2="274.3" y2="343.3" stroke="#555" stroke-width="0.8" />
<line x1="447.6" y1="343.3" x2="446" y2="343.3" stroke="#555" stroke-width="0.8" />
<line x1="272.7" y1="315.78" x2="274.3" y2="315.78" stroke="#555" stroke-width="0.8" />
<line x1="447.6" y1="315.78" x2="446" y2="315.78" stroke="#555" stroke-width="0.8" />
<line x1="272.7" y1="288.26" x2="274.3" y2="288.26" stroke="#555" stroke-width="0.8" />
<line x1="447.6" y1="288.26" x2="446" y2="288.26" stroke="#555" stroke-width="0.8" />
<line x1="272.7" y1="260.74" x2="274.3" y2="260.74" stroke="#555" stroke-width="0.8" />
<line x1="447.6" y1="260.74" x2="446" y2="260.74" stroke="#555" stroke-width="0.8" />
<line x1="272.7" y1="233.22" x2="274.3" y2="233.22" stroke="#555" stroke-width="0.8" />
<line x1="447.6" y1="233.22" x2="446" y2="233.22" stroke="#555" stroke-width="0.8" />
<line x1="272.7" y1="205.7" x2="274.3" y2="205.7" stroke="#555" stroke-width="0.8" />
<line x1="447.6" y1="205.7" x2="446" y2="205.7" stroke="#555" stroke-width="0.8" />
<polygon points="272.7,340.65 273.7,340.65 273.7,340.59 274.7,340.59 274.7,340.35 275.7,340.35 275.7,340.38 276.7,340.38 276.7,340.2 277.7,340.2 277.7,340.4 278.7,340.4 278.7,340.42 279.7,340.42 279.7,340.03 280.7,340.03 280.7,340.23 281.7,340.23 281.7,339.97 282.7,339.97 282.7,339.96 283.7,339.96 283.7,339.77 284.7,339.77 284.7,339.88 285.7,339.88 285.7,339.57 286.7,339.57 286.7,339.45 287.7,339.45 287.7,338.92 288.7,338.92 288.7,339.4 289.7,339.4 289.7,339.36 290.7,339.36 290.7,339.01 291.7,339.01 291.7,339.18 292.7,339.18 292.7,338.81 293.7,338.81 293.7,339.16 294.7,339.16 294.7,338.71 295.7,338.71 295.7,338.47 296.7,338.47 296.7,338.16 297.7,338.16 297.7,339.12 298.7,339.12 298.7,338.97 299.7,338.97 299.7,338.48 300.7,338.48 300.7,338.5 301.7,338.5 301.7,337.61 302.7,337.61 302.7,338.19 303.7,338.19 303.7,338.14 304.7,338.14 304.7,338.41 305.7,338.41 305.7,337.75 306.7,337.75 306.7,338.08 307.7,338.08 307.7,338.07 308.7,338.07 308.7,336.55 309.7,336.55 309.7,337.6 310.7,337.6 310.7,337.93 311.7,337.93 311.7,336.86 312.7,336.86 312.7,336.83 313.7,336.83 313.7,337.2 314.7,337.2 314.7,336.71 315.7,336.71 315.7,336.01 316.7,336.01 316.7,336.41 317.7,336.41 317.7,336.06 318.7,336.06 318.7,336.07 319.7,336.07 319.7,336.38 320.7,336.38 320.7,335.56 321.7,335.56 321.7,335.61 322.7,335.61 322.7,335.96 323.7,335.96 323.7,335.43 324.7,335.43 324.7,334.79 325.7,334.79 325.7,335.77 326.7,335.77 326.7,335.02 327.7,335.02 327.7,334.52 328.7,334.52 328.7,334.36 329.7,334.36 329.7,334.18 330.7,334.18 330.7,334.56 331.7,334.56 331.7,333.01 332.7,333.01 332.7,333.85 333.7,333.85 333.7,333.43 334.7,333.43 334.7,333.15 335.7,333.15 335.7,333.16 336.7,333.16 336.7,331.86 337.7,331.86 337.7,332.26 338.7,332.26 338.7,332.83 339.7,332.83 339.7,332.73 340.7,332.73 340.7,332.27 341.7,332.27 341.7,332.34 342.7,332.34 342.7,332.09 343.7,332.09 343.7,331.16 344.7,331.16 344.7,330.35 345.7,330.35 345.7,330.82 346.7,330.82 346.7,330.63 347.7,330.63 347.7,329.04 348.7,329.04 348.7,329.87 349.7,329.87 349.7,328.71 350.7,328.71 350.7,329.28 351.7,329.28 351.7,329.56 352.7,329.56 352.7,328.38 353.7,328.38 353.7,328.04 354.7,328.04 354.7,328.04 355.7,328.04 355.7,328.28 356.7,328.28 356.7,328.13 357.7,328.13 357.7,327.29 358.7,327.29 358.7,324.87 359.7,324.87 359.7,325.18 360.7,325.18 360.7,325.41 361.7,325.41 361.7,323.76 362.7,323.76 362.7,325.87 363.7,325.87 363.7,325.79 364.7,325.79 364.7,323.43 365.7,323.43 365.7,323.24 366.7,323.24 366.7,323.85 367.7,323.85 367.7,323.62 368.7,323.62 368.7,322.97 369.7,322.97 369.7,319.27 370.7,319.27 370.7,321.53 371.7,321.53 371.7,321.39 372.7,321.39 372.7,318.94 373.7,318.94 373.7,320.69 374.7,320.69 374.7,320.94 375.7,320.94 375.7,319.64 376.7,319.64 376.7,315.77 377.7,315.77 377.7,318.19 378.7,318.19 378.7,316.26 379.7,316.26 379.7,318.31 380.7,318.31 380.7,320 381.7,320 381.7,315.34 382.7,315.34 382.7,314.97 383.7,314.97 383.7,312.59 384.7,312.59 384.7,314.07 385.7,314.07 385.7,314.7 386.7,314.7 386.7,315.54 387.7,315.54 387.7,311.65 388.7,311.65 388.7,313.44 389.7,313.44 389.7,309.33 390.7,309.33 390.7,308.89 391.7,308.89 391.7,310.32 392.7,310.32 392.7,311.33 393.7,311.33 393.7,308.18 394.7,308.18 394.7,307.22 395.7,307.22 395.7,305.56 396.7,305.56 396.7,310.01 397.7,310.01 397.7,301.59 398.7,301.59 398.7,304.55 399.7,304.55 399.7,306.69 400.7,306.69 400.7,305.34 401.7,305.34 401.7,307.1 402.7,307.1 402.7,299.55 403.7,299.55 403.7,298.17 404.7,298.17 404.7,307.35 405.7,307.35 405.7,300.01 406.7,300.01 406.7,301.22 407.7,301.22 407.7,298.18 408.7,298.18 408.7,293.8 409.7,293.8 409.7,298.91 410.7,298.91 410.7,297.2 411.7,297.2 411.7,291.54 412.7,291.54 412.7,295.3 413.7,295.3 413.7,288.14 414.7,288.14 414.7,290.18 415.7,290.18 415.7,283.53 416.7,283.53 416.7,290.52 417.7,290.52 417.7,287.77 418.7,287.77 418.7,280.42 419.7,280.42 419.7,288.34 420.7,288.34 420.7,284.67 421.7,284.67 421.7,271.31 422.7,271.31 422.7,274.39 423.7,274.39 423.7,278.75 424.7,278.75 424.7,282.89 425.7,282.89 425.7,281.64 426.7,281.64 426.7,271.11 427.7,271.11 427.7,276.16 428.7,276.16 428.7,262.96 429.7,262.96 429.7,266.36 430.7,266.36 430.7,267.24 431.7,267.24 431.7,260.48 432.7,260.48 432.7,262.82 433.7,262.82 433.7,257.94 434.7,257.94 434.7,263.27 435.7,263.27 435.7,255.59 436.7,255.59 436.7,249.62 437.7,249.62 437.7,241.11 438.7,241.11 438.7,245.52 439.7,245.52 439.7,240.35 440.7,240.35 440.7,234.33 441.7,234.33 441.7,229.24 442.7,229.24 442.7,231.6 443.7,231.6 443.7,223.81 444.7,223.81 444.7,227.41 445.7,227.41 445.7,222.06 446.7,222.06 446.7,214.5 447.6,214.5 447.6,251.24 446.7,251.24 446.7,254.55 445.7,254.55 445.7,255.25 444.7,255.25 444.7,259.51 443.7,259.51 443.7,271.02 442.7,271.02 442.7,264.9 441.7,264.9 441.7,270.8 440.7,270.8 440.7,273.47 439.7,273.47 439.7,268.95 438.7,268.95 438.7,267.99 437.7,267.99 437.7,280.46 436.7,280.46 436.7,282.56 435.7,282.56 435.7,284.66 434.7,284.66 434.7,290.18 433.7,290.18 433.7,290.16 432.7,290.16 432.7,287.87 431.7,287.87 431.7,290.96 430.7,290.96 430.7,286.71 429.7,286.71 429.7,293.19 428.7,293.19 428.7,294.12 427.7,294.12 427.7,298.68 426.7,298.68 426.7,295.23 425.7,295.23 425.7,300.25 424.7,300.25 424.7,297.18 423.7,297.18 423.7,300.98 422.7,300.98 422.7,297.35 421.7,297.35 421.7,302.59 420.7,302.59 420.7,305.03 419.7,305.03 419.7,302.83 418.7,302.83 418.7,301.79 417.7,301.79 417.7,305.04 416.7,305.04 416.7,304.9 415.7,304.9 415.7,305.13 414.7,305.13 414.7,307.83 413.7,307.83 413.7,307.56 412.7,307.56 412.7,308.39 411.7,308.39 411.7,307.39 410.7,307.39 410.7,312.14 409.7,312.14 409.7,312.81 408.7,312.81 408.7,314.54 407.7,314.54 407.7,314.43 406.7,314.43 406.7,316.04 405.7,316.04 405.7,314.34 404.7,314.34 404.7,312.63 403.7,312.63 403.7,315.72 402.7,315.72 402.7,315.94 401.7,315.94 401.7,315.3 400.7,315.3 400.7,317.69 399.7,317.69 399.7,319.8 398.7,319.8 398.7,318.2 397.7,318.2 397.7,322.03 396.7,322.03 396.7,319.88 395.7,319.88 395.7,321.79 394.7,321.79 394.7,318.32 393.7,318.32 393.7,321.13 392.7,321.13 392.7,321.34 391.7,321.34 391.7,322.39 390.7,322.39 390.7,320.28 389.7,320.28 389.7,321.46 388.7,321.46 388.7,321.87 387.7,321.87 387.7,323.41 386.7,323.41 386.7,322.95 385.7,322.95 385.7,324.06 384.7,324.06 384.7,325.99 383.7,325.99 383.7,323.81 382.7,323.81 382.7,326.36 381.7,326.36 381.7,326.69 380.7,326.69 380.7,325.12 379.7,325.12 379.7,325.9 378.7,325.9 378.7,325.06 377.7,325.06 377.7,327.25 376.7,327.25 376.7,327.49 375.7,327.49 375.7,326.57 374.7,326.57 374.7,327.22 373.7,327.22 373.7,329.33 372.7,329.33 372.7,328.85 371.7,328.85 371.7,329.01 370.7,329.01 370.7,329.83 369.7,329.83 369.7,327.85 368.7,327.85 368.7,330.44 367.7,330.44 367.7,331.14 366.7,331.14 366.7,330 365.7,330 365.7,330.09 364.7,330.09 364.7,331.09 363.7,331.09 363.7,332.91 362.7,332.91 362.7,333.6 361.7,333.6 361.7,332.89 360.7,332.89 360.7,331.13 359.7,331.13 359.7,332.26 358.7,332.26 358.7,333.41 357.7,333.41 357.7,334.1 356.7,334.1 356.7,334.09 355.7,334.09 355.7,333.05 354.7,333.05 354.7,333.55 353.7,333.55 353.7,334.5 352.7,334.5 352.7,333.27 351.7,333.27 351.7,334.6 350.7,334.6 350.7,334.71 349.7,334.71 349.7,333.85 348.7,333.85 348.7,335.82 347.7,335.82 347.7,334.04 346.7,334.04 346.7,334.91 345.7,334.91 345.7,334.78 344.7,334.78 344.7,335.04 343.7,335.04 343.7,336.45 342.7,336.45 342.7,336.95 341.7,336.95 341.7,335.66 340.7,335.66 340.7,336.07 339.7,336.07 339.7,336.38 338.7,336.38 338.7,336.31 337.7,336.31 337.7,335.93 336.7,335.93 336.7,336.66 335.7,336.66 335.7,337 334.7,337 334.7,336.82 333.7,336.82 333.7,337.27 332.7,337.27 332.7,337.91 331.7,337.91 331.7,337.71 330.7,337.71 330.7,337.14 329.7,337.14 329.7,337.92 328.7,337.92 328.7,337.79 327.7,337.79 327.7,338.24 326.7,338.24 326.7,338.2 325.7,338.2 325.7,338.7 324.7,338.7 324.7,338.75 323.7,338.75 323.7,338.8 322.7,338.8 322.7,338.79 321.7,338.79 321.7,338.22 320.7,338.22 320.7,339.74 319.7,339.74 319.7,339.16 318.7,339.16 318.7,339.47 317.7,339.47 317.7,339.26 316.7,339.26 316.7,338.91 315.7,338.91 315.7,338.95 314.7,338.95 314.7,339.49 313.7,339.49 313.7,339.4 312.7,339.4 312.7,339.55 311.7,339.55 311.7,339.69 310.7,339.69 310.7,339.77 309.7,339.77 309.7,339.91 308.7,339.91 308.7,339.87 307.7,339.87 307.7,340.43 306.7,340.43 306.7,340.15 305.7,340.15 305.7,340.12 304.7,340.12 304.7,340.12 303.7,340.12 303.7,340.58 302.7,340.58 302.7,340.52 301.7,340.52 301.7,340.35 300.7,340.35 300.7,340.56 299.7,340.56 299.7,340.75 298.7,340.75 298.7,341.02 297.7,341.02 297.7,340.36 296.7,340.36 296.7,341 295.7,341 295.7,340.97 294.7,340.97 294.7,340.85 293.7,340.85 293.7,341.07 292.7,341.07 292.7,341.02 291.7,341.02 291.7,341.14 290.7,341.14 290.7,341.19 289.7,341.19 289.7,341.47 288.7,341.47 288.7,341.17 287.7,341.17 287.7,341.3 286.7,341.3 286.7,341.33 285.7,341.33 285.7,341.62 284.7,341.62 284.7,341.55 283.7,341.55 283.7,341.5 282.7,341.5 282.7,341.69 281.7,341.69 281.7,341.65 280.7,341.65 280.7,341.64 279.7,341.64 279.7,341.81 278.7,341.81 278.7,342.02 277.7,342.02 277.7,341.72 276.7,341.72 276.7,341.83 275.7,341.83 275.7,341.81 274.7,341.81 274.7,342.07 273.7,342.07 273.7,341.92 272.7,341.92" fill="#0072bd" stroke="#0072bd" stroke-width="0.6" stroke-linejoin="round"/>
<polygon points="272.7,341.82 273.7,341.82 273.7,341.86 274.7,341.86 274.7,341.76 275.7,341.76 275.7,341.78 276.7,341.78 276.7,341.68 277.7,341.68 277.7,341.72 278.7,341.72 278.7,341.63 279.7,341.63 279.7,341.62 280.7,341.62 280.7,341.63 281.7,341.63 281.7,341.68 282.7,341.68 282.7,341.56 283.7,341.56 283.7,341.65 284.7,341.65 284.7,341.54 285.7,341.54 285.7,341.54 286.7,341.54 286.7,341.54 287.7,341.54 287.7,341.5 288.7,341.5 288.7,341.47 289.7,341.47 289.7,341.4 290.7,341.4 290.7,341.34 291.7,341.34 291.7,341.35 292.7,341.35 292.7,341.35 293.7,341.35 293.7,341.34 294.7,341.34 294.7,341.21 295.7,341.21 295.7,341.32 296.7,341.32 296.7,341.16 297.7,341.16 297.7,341.15 298.7,341.15 298.7,341.11 299.7,341.11 299.7,341.04 300.7,341.04 300.7,341.14 301.7,341.14 301.7,341.03 302.7,341.03 302.7,341.01 303.7,341.01 303.7,341.06 304.7,341.06 304.7,341.03 305.7,341.03 305.7,341 306.7,341 306.7,340.83 307.7,340.83 307.7,340.83 308.7,340.83 308.7,340.83 309.7,340.83 309.7,340.96 310.7,340.96 310.7,340.64 311.7,340.64 311.7,340.63 312.7,340.63 312.7,340.79 313.7,340.79 313.7,340.59 314.7,340.59 314.7,340.66 315.7,340.66 315.7,340.65 316.7,340.65 316.7,340.53 317.7,340.53 317.7,340.47 318.7,340.47 318.7,340.48 319.7,340.48 319.7,340.24 320.7,340.24 320.7,340.33 321.7,340.33 321.7,340.06 322.7,340.06 322.7,340.26 323.7,340.26 323.7,340.14 324.7,340.14 324.7,339.79 325.7,339.79 325.7,339.93 326.7,339.93 326.7,339.82 327.7,339.82 327.7,339.72 328.7,339.72 328.7,339.95 329.7,339.95 329.7,339.84 330.7,339.84 330.7,339.86 331.7,339.86 331.7,339.67 332.7,339.67 332.7,339.76 333.7,339.76 333.7,339.51 334.7,339.51 334.7,339.45 335.7,339.45 335.7,339.34 336.7,339.34 336.7,339.42 337.7,339.42 337.7,339.23 338.7,339.23 338.7,339.26 339.7,339.26 339.7,339.2 340.7,339.2 340.7,339.01 341.7,339.01 341.7,339.01 342.7,339.01 342.7,338.95 343.7,338.95 343.7,338.8 344.7,338.8 344.7,338.85 345.7,338.85 345.7,338.97 346.7,338.97 346.7,338.74 347.7,338.74 347.7,338.7 348.7,338.7 348.7,338.36 349.7,338.36 349.7,338.05 350.7,338.05 350.7,338.54 351.7,338.54 351.7,338.16 352.7,338.16 352.7,338.02 353.7,338.02 353.7,337.98 354.7,337.98 354.7,338.14 355.7,338.14 355.7,337.38 356.7,337.38 356.7,337.47 357.7,337.47 357.7,337.45 358.7,337.45 358.7,337.62 359.7,337.62 359.7,337.47 360.7,337.47 360.7,337.47 361.7,337.47 361.7,337.48 362.7,337.48 362.7,337.38 363.7,337.38 363.7,337.3 364.7,337.3 364.7,337.18 365.7,337.18 365.7,336.81 366.7,336.81 366.7,336.28 367.7,336.28 367.7,336.75 368.7,336.75 368.7,336.08 369.7,336.08 369.7,336.39 370.7,336.39 370.7,336.44 371.7,336.44 371.7,335.73 372.7,335.73 372.7,336.28 373.7,336.28 373.7,336.03 374.7,336.03 374.7,335.65 375.7,335.65 375.7,335.77 376.7,335.77 376.7,335.62 377.7,335.62 377.7,334.63 378.7,334.63 378.7,335.2 379.7,335.2 379.7,335.26 380.7,335.26 380.7,334.91 381.7,334.91 381.7,334.38 382.7,334.38 382.7,334.63 383.7,334.63 383.7,334.16 384.7,334.16 384.7,334.06 385.7,334.06 385.7,333.75 386.7,333.75 386.7,333.35 387.7,333.35 387.7,333.62 388.7,333.62 388.7,333.37 389.7,333.37 389.7,334.13 390.7,334.13 390.7,333.46 391.7,333.46 391.7,332.39 392.7,332.39 392.7,333.13 393.7,333.13 393.7,332.6 394.7,332.6 394.7,331.95 395.7,331.95 395.7,332.06 396.7,332.06 396.7,331.7 397.7,331.7 397.7,331.9 398.7,331.9 398.7,330.91 399.7,330.91 399.7,330.94 400.7,330.94 400.7,330.76 401.7,330.76 401.7,330.47 402.7,330.47 402.7,330.29 403.7,330.29 403.7,330.19 404.7,330.19 404.7,329.86 405.7,329.86 405.7,328.78 406.7,328.78 406.7,328.94 407.7,328.94 407.7,329.68 408.7,329.68 408.7,328.7 409.7,328.7 409.7,329.13 410.7,329.13 410.7,328.16 411.7,328.16 411.7,327.61 412.7,327.61 412.7,328.06 413.7,328.06 413.7,327.56 414.7,327.56 414.7,325.84 415.7,325.84 415.7,326.02 416.7,326.02 416.7,325.37 417.7,325.37 417.7,325.88 418.7,325.88 418.7,327.36 419.7,327.36 419.7,326.1 420.7,326.1 420.7,324.89 421.7,324.89 421.7,325.07 422.7,325.07 422.7,324.63 423.7,324.63 423.7,325.16 424.7,325.16 424.7,323.8 425.7,323.8 425.7,324.05 426.7,324.05 426.7,322.82 427.7,322.82 427.7,324.97 428.7,324.97 428.7,322.47 429.7,322.47 429.7,320.88 430.7,320.88 430.7,321.73 431.7,321.73 431.7,321.83 432.7,321.83 432.7,322 433.7,322 433.7,321.02 434.7,321.02 434.7,319.59 435.7,319.59 435.7,319.42 436.7,319.42 436.7,318.17 437.7,318.17 437.7,319.35 438.7,319.35 438.7,317.99 439.7,317.99 439.7,317.17 440.7,317.17 440.7,317.9 441.7,317.9 441.7,317.71 442.7,317.71 442.7,316.54 443.7,316.54 443.7,316.93 444.7,316.93 444.7,314.01 445.7,314.01 445.7,315.23 446.7,315.23 446.7,313.15 447.6,313.15 447.6,320.48 446.7,320.48 446.7,322.86 445.7,322.86 445.7,322.66 444.7,322.66 444.7,324.03 443.7,324.03 443.7,321.33 442.7,321.33 442.7,323.07 441.7,323.07 441.7,323.93 440.7,323.93 440.7,323.77 439.7,323.77 439.7,324.47 438.7,324.47 438.7,325.87 437.7,325.87 437.7,325.98 436.7,325.98 436.7,325.46 435.7,325.46 435.7,326.08 434.7,326.08 434.7,325.31 433.7,325.31 433.7,326.36 432.7,326.36 432.7,329.05 431.7,329.05 431.7,325.97 430.7,325.97 430.7,327.16 429.7,327.16 429.7,329.03 428.7,329.03 428.7,328.76 427.7,328.76 427.7,328.64 426.7,328.64 426.7,328.06 425.7,328.06 425.7,328.24 424.7,328.24 424.7,328.98 423.7,328.98 423.7,330.2 422.7,330.2 422.7,329.8 421.7,329.8 421.7,330.06 420.7,330.06 420.7,329.77 419.7,329.77 419.7,330.7 418.7,330.7 418.7,330.45 417.7,330.45 417.7,331.32 416.7,331.32 416.7,331.32 415.7,331.32 415.7,330.68 414.7,330.68 414.7,331.63 413.7,331.63 413.7,331.53 412.7,331.53 412.7,331.84 411.7,331.84 411.7,331.27 410.7,331.27 410.7,332.45 409.7,332.45 409.7,333.3 408.7,333.3 408.7,332.66 407.7,332.66 407.7,333.39 406.7,333.39 406.7,332.39 405.7,332.39 405.7,334.16 404.7,334.16 404.7,335.7 403.7,335.7 403.7,333.52 402.7,333.52 402.7,334.12 401.7,334.12 401.7,333.99 400.7,333.99 400.7,334.56 399.7,334.56 399.7,334.37 398.7,334.37 398.7,335.33 397.7,335.33 397.7,335.17 396.7,335.17 396.7,334.84 395.7,334.84 395.7,335.04 394.7,335.04 394.7,335.45 393.7,335.45 393.7,335.98 392.7,335.98 392.7,336.49 391.7,336.49 391.7,335.86 390.7,335.86 390.7,336.25 389.7,336.25 389.7,336.5 388.7,336.5 388.7,336.54 387.7,336.54 387.7,336.34 386.7,336.34 386.7,336.25 385.7,336.25 385.7,336.77 384.7,336.77 384.7,337.07 383.7,337.07 383.7,337.1 382.7,337.1 382.7,337.18 381.7,337.18 381.7,337.88 380.7,337.88 380.7,337.2 379.7,337.2 379.7,337.05 378.7,337.05 378.7,337.42 377.7,337.42 377.7,337.52 376.7,337.52 376.7,338.29 375.7,338.29 375.7,337.89 374.7,337.89 374.7,338.35 373.7,338.35 373.7,338.71 372.7,338.71 372.7,338.59 371.7,338.59 371.7,338.1 370.7,338.1 370.7,338.59 369.7,338.59 369.7,338.84 368.7,338.84 368.7,338.81 367.7,338.81 367.7,338.69 366.7,338.69 366.7,338.95 365.7,338.95 365.7,339.47 364.7,339.47 364.7,339.23 363.7,339.23 363.7,338.94 362.7,338.94 362.7,339.37 361.7,339.37 361.7,340.1 360.7,340.1 360.7,339.51 359.7,339.51 359.7,339.31 358.7,339.31 358.7,339.49 357.7,339.49 357.7,339.38 356.7,339.38 356.7,339.74 355.7,339.74 355.7,339.52 354.7,339.52 354.7,339.86 353.7,339.86 353.7,339.94 352.7,339.94 352.7,340.05 351.7,340.05 351.7,340.24 350.7,340.24 350.7,340.27 349.7,340.27 349.7,340.17 348.7,340.17 348.7,340.34 347.7,340.34 347.7,340.21 346.7,340.21 346.7,340.39 345.7,340.39 345.7,340.48 344.7,340.48 344.7,340.49 343.7,340.49 343.7,340.36 342.7,340.36 342.7,341.03 341.7,341.03 341.7,340.68 340.7,340.68 340.7,340.65 339.7,340.65 339.7,340.94 338.7,340.94 338.7,340.96 337.7,340.96 337.7,341.11 336.7,341.11 336.7,341 335.7,341 335.7,340.92 334.7,340.92 334.7,341.14 333.7,341.14 333.7,341.44 332.7,341.44 332.7,341.27 331.7,341.27 331.7,341.19 330.7,341.19 330.7,341.4 329.7,341.4 329.7,341.46 328.7,341.46 328.7,341.28 327.7,341.28 327.7,341.38 326.7,341.38 326.7,341.71 325.7,341.71 325.7,341.54 324.7,341.54 324.7,341.56 323.7,341.56 323.7,341.57 322.7,341.57 322.7,341.66 321.7,341.66 321.7,341.6 320.7,341.6 320.7,341.67 319.7,341.67 319.7,341.93 318.7,341.93 318.7,341.73 317.7,341.73 317.7,341.75 316.7,341.75 316.7,341.82 315.7,341.82 315.7,341.86 314.7,341.86 314.7,341.92 313.7,341.92 313.7,341.97 312.7,341.97 312.7,341.99 311.7,341.99 311.7,341.85 310.7,341.85 310.7,342.08 309.7,342.08 309.7,342.1 308.7,342.1 308.7,342.19 307.7,342.19 307.7,342.14 306.7,342.14 306.7,342.15 305.7,342.15 305.7,342.07 304.7,342.07 304.7,342.18 303.7,342.18 303.7,342.39 302.7,342.39 302.7,342.19 301.7,342.19 301.7,342.2 300.7,342.2 300.7,342.22 299.7,342.22 299.7,342.41 298.7,342.41 298.7,342.54 297.7,342.54 297.7,342.45 296.7,342.45 296.7,342.39 295.7,342.39 295.7,342.46 294.7,342.46 294.7,342.48 293.7,342.48 293.7,342.47 292.7,342.47 292.7,342.48 291.7,342.48 291.7,342.58 290.7,342.58 290.7,342.53 289.7,342.53 289.7,342.68 288.7,342.68 288.7,342.52 287.7,342.52 287.7,342.67 286.7,342.67 286.7,342.59 285.7,342.59 285.7,342.67 284.7,342.67 284.7,342.7 283.7,342.7 283.7,342.6 282.7,342.6 282.7,342.75 281.7,342.75 281.7,342.71 280.7,342.71 280.7,342.77 279.7,342.77 279.7,342.82 278.7,342.82 278.7,342.77 277.7,342.77 277.7,342.76 276.7,342.76 276.7,342.85 275.7,342.85 275.7,342.88 274.7,342.88 274.7,342.92 273.7,342.92 273.7,342.88 272.7,342.88" fill="#ff0000" stroke="#ff0000" stroke-width="0.6" stroke-linejoin="round"/>
<text x="272.7" y="357" font-size="10.5" text-anchor="middle" fill="#111" stroke="#111" stroke-width="0.1" font-weight="normal" >0</text>
<text x="295.12" y="357" font-size="10.5" text-anchor="middle" fill="#111" stroke="#111" stroke-width="0.1" font-weight="normal" >5</text>
<text x="317.55" y="357" font-size="10.5" text-anchor="middle" fill="#111" stroke="#111" stroke-width="0.1" font-weight="normal" >10</text>
<text x="339.97" y="357" font-size="10.5" text-anchor="middle" fill="#111" stroke="#111" stroke-width="0.1" font-weight="normal" >15</text>
<text x="362.39" y="357" font-size="10.5" text-anchor="middle" fill="#111" stroke="#111" stroke-width="0.1" font-weight="normal" >20</text>
<text x="384.82" y="357" font-size="10.5" text-anchor="middle" fill="#111" stroke="#111" stroke-width="0.1" font-weight="normal" >25</text>
<text x="407.24" y="357" font-size="10.5" text-anchor="middle" fill="#111" stroke="#111" stroke-width="0.1" font-weight="normal" >30</text>
<text x="429.66" y="357" font-size="10.5" text-anchor="middle" fill="#111" stroke="#111" stroke-width="0.1" font-weight="normal" >35</text>
<text x="268.2" y="347.7" font-size="10.5" text-anchor="end" fill="#111" stroke="#111" stroke-width="0.1" font-weight="normal" >0</text>
<text x="268.2" y="320.18" font-size="10.5" text-anchor="end" fill="#111" stroke="#111" stroke-width="0.1" font-weight="normal" >2</text>
<text x="268.2" y="292.66" font-size="10.5" text-anchor="end" fill="#111" stroke="#111" stroke-width="0.1" font-weight="normal" >4</text>
<text x="268.2" y="265.14" font-size="10.5" text-anchor="end" fill="#111" stroke="#111" stroke-width="0.1" font-weight="normal" >6</text>
<text x="268.2" y="237.62" font-size="10.5" text-anchor="end" fill="#111" stroke="#111" stroke-width="0.1" font-weight="normal" >8</text>
<text x="268.2" y="210.1" font-size="10.5" text-anchor="end" fill="#111" stroke="#111" stroke-width="0.1" font-weight="normal" >10</text>
<text x="249.6" y="272.2" font-size="11.5" text-anchor="middle" fill="#111" stroke="#111" stroke-width="0.1" font-weight="normal" transform="rotate(-90 249.6 272.2)">Uncertainty (°C)</text>
<text x="360" y="371" font-size="12.35" text-anchor="middle" fill="#111" stroke="#111" stroke-width="0.1" font-weight="normal" >Distance (km)</text>
<text x="235.4" y="205.8" font-size="14" text-anchor="start" fill="#000" stroke="#000" stroke-width="0.1" font-weight="bold" >e</text>
<line x1="279.2" y1="218.5" x2="291.8" y2="218.5" stroke="#0072bd" stroke-width="1.2" />
<text x="295.7" y="221.7" font-size="9.5" text-anchor="start" fill="#111" stroke="#111" stroke-width="0.1" font-weight="normal" >Single pulse, 2 m</text>
<line x1="279.2" y1="231.5" x2="291.8" y2="231.5" stroke="#ff0000" stroke-width="1.2" />
<text x="295.7" y="234.6" font-size="9.5" text-anchor="start" fill="#111" stroke="#111" stroke-width="0.1" font-weight="normal" >GO code, 2 m</text>
<text x="392.4" y="226.6" font-size="11" text-anchor="start" fill="#0072bd" stroke="#0072bd" stroke-width="0.1" font-weight="normal" >8.3 °C</text>
<text x="346.6" y="303.8" font-size="11" text-anchor="start" fill="#ff0000" stroke="#ff0000" stroke-width="0.1" font-weight="normal" >1.9 °C</text>
<line x1="441.8" y1="229" x2="425.9" y2="225.6" stroke="#0072bd" stroke-width="0.8" />
<polygon points="425.9,225.6 431.25,224.49 430.33,228.8" fill="#0072bd"/>
<line x1="441.2" y1="315.8" x2="380.1" y2="303.1" stroke="#ff0000" stroke-width="0.8" />
<polygon points="380.1,303.1 385.44,301.96 384.55,306.27" fill="#ff0000"/>
<line x1="527.16" y1="205.7" x2="527.16" y2="343.3" stroke="#e3e3e3" stroke-width="0.7" />
<line x1="549.62" y1="205.7" x2="549.62" y2="343.3" stroke="#e3e3e3" stroke-width="0.7" />
<line x1="572.08" y1="205.7" x2="572.08" y2="343.3" stroke="#e3e3e3" stroke-width="0.7" />
<line x1="594.55" y1="205.7" x2="594.55" y2="343.3" stroke="#e3e3e3" stroke-width="0.7" />
<line x1="617.01" y1="205.7" x2="617.01" y2="343.3" stroke="#e3e3e3" stroke-width="0.7" />
<line x1="639.47" y1="205.7" x2="639.47" y2="343.3" stroke="#e3e3e3" stroke-width="0.7" />
<line x1="661.93" y1="205.7" x2="661.93" y2="343.3" stroke="#e3e3e3" stroke-width="0.7" />
<line x1="504.7" y1="323.64" x2="679.9" y2="323.64" stroke="#e3e3e3" stroke-width="0.7" />
<line x1="504.7" y1="303.99" x2="679.9" y2="303.99" stroke="#e3e3e3" stroke-width="0.7" />
<line x1="504.7" y1="284.33" x2="679.9" y2="284.33" stroke="#e3e3e3" stroke-width="0.7" />
<line x1="504.7" y1="264.67" x2="679.9" y2="264.67" stroke="#e3e3e3" stroke-width="0.7" />
<line x1="504.7" y1="245.01" x2="679.9" y2="245.01" stroke="#e3e3e3" stroke-width="0.7" />
<line x1="504.7" y1="225.36" x2="679.9" y2="225.36" stroke="#e3e3e3" stroke-width="0.7" />
<rect x="504.7" y="205.7" width="175.2" height="137.6" fill="none" stroke="#a0a0a0" stroke-width="1"/>
<line x1="504.7" y1="343.3" x2="504.7" y2="341.7" stroke="#555" stroke-width="0.8" />
<line x1="504.7" y1="205.7" x2="504.7" y2="207.3" stroke="#555" stroke-width="0.8" />
<line x1="527.16" y1="343.3" x2="527.16" y2="341.7" stroke="#555" stroke-width="0.8" />
<line x1="527.16" y1="205.7" x2="527.16" y2="207.3" stroke="#555" stroke-width="0.8" />
<line x1="549.62" y1="343.3" x2="549.62" y2="341.7" stroke="#555" stroke-width="0.8" />
<line x1="549.62" y1="205.7" x2="549.62" y2="207.3" stroke="#555" stroke-width="0.8" />
<line x1="572.08" y1="343.3" x2="572.08" y2="341.7" stroke="#555" stroke-width="0.8" />
<line x1="572.08" y1="205.7" x2="572.08" y2="207.3" stroke="#555" stroke-width="0.8" />
<line x1="594.55" y1="343.3" x2="594.55" y2="341.7" stroke="#555" stroke-width="0.8" />
<line x1="594.55" y1="205.7" x2="594.55" y2="207.3" stroke="#555" stroke-width="0.8" />
<line x1="617.01" y1="343.3" x2="617.01" y2="341.7" stroke="#555" stroke-width="0.8" />
<line x1="617.01" y1="205.7" x2="617.01" y2="207.3" stroke="#555" stroke-width="0.8" />
<line x1="639.47" y1="343.3" x2="639.47" y2="341.7" stroke="#555" stroke-width="0.8" />
<line x1="639.47" y1="205.7" x2="639.47" y2="207.3" stroke="#555" stroke-width="0.8" />
<line x1="661.93" y1="343.3" x2="661.93" y2="341.7" stroke="#555" stroke-width="0.8" />
<line x1="661.93" y1="205.7" x2="661.93" y2="207.3" stroke="#555" stroke-width="0.8" />
<line x1="504.7" y1="343.3" x2="506.3" y2="343.3" stroke="#555" stroke-width="0.8" />
<line x1="679.9" y1="343.3" x2="678.3" y2="343.3" stroke="#555" stroke-width="0.8" />
<line x1="504.7" y1="323.64" x2="506.3" y2="323.64" stroke="#555" stroke-width="0.8" />
<line x1="679.9" y1="323.64" x2="678.3" y2="323.64" stroke="#555" stroke-width="0.8" />
<line x1="504.7" y1="303.99" x2="506.3" y2="303.99" stroke="#555" stroke-width="0.8" />
<line x1="679.9" y1="303.99" x2="678.3" y2="303.99" stroke="#555" stroke-width="0.8" />
<line x1="504.7" y1="284.33" x2="506.3" y2="284.33" stroke="#555" stroke-width="0.8" />
<line x1="679.9" y1="284.33" x2="678.3" y2="284.33" stroke="#555" stroke-width="0.8" />
<line x1="504.7" y1="264.67" x2="506.3" y2="264.67" stroke="#555" stroke-width="0.8" />
<line x1="679.9" y1="264.67" x2="678.3" y2="264.67" stroke="#555" stroke-width="0.8" />
<line x1="504.7" y1="245.01" x2="506.3" y2="245.01" stroke="#555" stroke-width="0.8" />
<line x1="679.9" y1="245.01" x2="678.3" y2="245.01" stroke="#555" stroke-width="0.8" />
<line x1="504.7" y1="225.36" x2="506.3" y2="225.36" stroke="#555" stroke-width="0.8" />
<line x1="679.9" y1="225.36" x2="678.3" y2="225.36" stroke="#555" stroke-width="0.8" />
<line x1="504.7" y1="205.7" x2="506.3" y2="205.7" stroke="#555" stroke-width="0.8" />
<line x1="679.9" y1="205.7" x2="678.3" y2="205.7" stroke="#555" stroke-width="0.8" />
<polygon points="504.7,340.27 505.7,340.27 505.7,340.18 506.7,340.18 506.7,340.18 507.7,340.18 507.7,340.25 508.7,340.25 508.7,340.11 509.7,340.11 509.7,340.05 510.7,340.05 510.7,339.99 511.7,339.99 511.7,339.95 512.7,339.95 512.7,339.7 513.7,339.7 513.7,339.79 514.7,339.79 514.7,339.44 515.7,339.44 515.7,339.7 516.7,339.7 516.7,339.28 517.7,339.28 517.7,339.54 518.7,339.54 518.7,339.41 519.7,339.41 519.7,339.28 520.7,339.28 520.7,339.17 521.7,339.17 521.7,339.19 522.7,339.19 522.7,338.95 523.7,338.95 523.7,339.24 524.7,339.24 524.7,339.15 525.7,339.15 525.7,338.82 526.7,338.82 526.7,338.84 527.7,338.84 527.7,339.1 528.7,339.1 528.7,338.92 529.7,338.92 529.7,338.56 530.7,338.56 530.7,338.82 531.7,338.82 531.7,338.34 532.7,338.34 532.7,338.38 533.7,338.38 533.7,338.42 534.7,338.42 534.7,338.33 535.7,338.33 535.7,338.06 536.7,338.06 536.7,338.09 537.7,338.09 537.7,338.38 538.7,338.38 538.7,338.16 539.7,338.16 539.7,338.27 540.7,338.27 540.7,337.77 541.7,337.77 541.7,337.8 542.7,337.8 542.7,337.74 543.7,337.74 543.7,337.58 544.7,337.58 544.7,337.65 545.7,337.65 545.7,337.61 546.7,337.61 546.7,337.35 547.7,337.35 547.7,337.49 548.7,337.49 548.7,337.15 549.7,337.15 549.7,336.88 550.7,336.88 550.7,336.98 551.7,336.98 551.7,336.94 552.7,336.94 552.7,336.85 553.7,336.85 553.7,336 554.7,336 554.7,335.77 555.7,335.77 555.7,336.11 556.7,336.11 556.7,335.7 557.7,335.7 557.7,335.67 558.7,335.67 558.7,335.61 559.7,335.61 559.7,335.34 560.7,335.34 560.7,335.61 561.7,335.61 561.7,335.31 562.7,335.31 562.7,335.89 563.7,335.89 563.7,334.79 564.7,334.79 564.7,334.87 565.7,334.87 565.7,334.62 566.7,334.62 566.7,334.24 567.7,334.24 567.7,334.54 568.7,334.54 568.7,334.8 569.7,334.8 569.7,334.43 570.7,334.43 570.7,334.4 571.7,334.4 571.7,333.99 572.7,333.99 572.7,334.22 573.7,334.22 573.7,333.79 574.7,333.79 574.7,333.43 575.7,333.43 575.7,332.85 576.7,332.85 576.7,332.38 577.7,332.38 577.7,332.99 578.7,332.99 578.7,331.3 579.7,331.3 579.7,331.61 580.7,331.61 580.7,330.85 581.7,330.85 581.7,331.05 582.7,331.05 582.7,331.34 583.7,331.34 583.7,331.29 584.7,331.29 584.7,331.27 585.7,331.27 585.7,329.4 586.7,329.4 586.7,329.72 587.7,329.72 587.7,329.41 588.7,329.41 588.7,328.58 589.7,328.58 589.7,329.26 590.7,329.26 590.7,328.21 591.7,328.21 591.7,328.08 592.7,328.08 592.7,327.58 593.7,327.58 593.7,328.25 594.7,328.25 594.7,327.6 595.7,327.6 595.7,326.32 596.7,326.32 596.7,326.96 597.7,326.96 597.7,325.09 598.7,325.09 598.7,326.55 599.7,326.55 599.7,324.27 600.7,324.27 600.7,322.97 601.7,322.97 601.7,322.69 602.7,322.69 602.7,323.99 603.7,323.99 603.7,322.25 604.7,322.25 604.7,321.52 605.7,321.52 605.7,321.2 606.7,321.2 606.7,321.22 607.7,321.22 607.7,320.61 608.7,320.61 608.7,320.01 609.7,320.01 609.7,319.45 610.7,319.45 610.7,319.67 611.7,319.67 611.7,318.16 612.7,318.16 612.7,318.48 613.7,318.48 613.7,315.44 614.7,315.44 614.7,316.15 615.7,316.15 615.7,316.78 616.7,316.78 616.7,315.22 617.7,315.22 617.7,314.86 618.7,314.86 618.7,312.54 619.7,312.54 619.7,311.28 620.7,311.28 620.7,314.37 621.7,314.37 621.7,310.4 622.7,310.4 622.7,309.62 623.7,309.62 623.7,307.07 624.7,307.07 624.7,306.39 625.7,306.39 625.7,308.57 626.7,308.57 626.7,308.95 627.7,308.95 627.7,308.64 628.7,308.64 628.7,305.4 629.7,305.4 629.7,300.85 630.7,300.85 630.7,304.66 631.7,304.66 631.7,305.59 632.7,305.59 632.7,300.23 633.7,300.23 633.7,302.97 634.7,302.97 634.7,300.01 635.7,300.01 635.7,299.38 636.7,299.38 636.7,297.19 637.7,297.19 637.7,290.79 638.7,290.79 638.7,295.23 639.7,295.23 639.7,291.51 640.7,291.51 640.7,290.84 641.7,290.84 641.7,291.3 642.7,291.3 642.7,287.97 643.7,287.97 643.7,288.52 644.7,288.52 644.7,284.41 645.7,284.41 645.7,287.69 646.7,287.69 646.7,284.58 647.7,284.58 647.7,283.33 648.7,283.33 648.7,283.35 649.7,283.35 649.7,280.63 650.7,280.63 650.7,276.59 651.7,276.59 651.7,278.81 652.7,278.81 652.7,276.17 653.7,276.17 653.7,276.89 654.7,276.89 654.7,270.86 655.7,270.86 655.7,271.84 656.7,271.84 656.7,270.69 657.7,270.69 657.7,271.21 658.7,271.21 658.7,267.13 659.7,267.13 659.7,267.07 660.7,267.07 660.7,264.64 661.7,264.64 661.7,265.68 662.7,265.68 662.7,255.46 663.7,255.46 663.7,256.88 664.7,256.88 664.7,254.58 665.7,254.58 665.7,257.28 666.7,257.28 666.7,245.16 667.7,245.16 667.7,240.64 668.7,240.64 668.7,247.14 669.7,247.14 669.7,249.89 670.7,249.89 670.7,233.09 671.7,233.09 671.7,239 672.7,239 672.7,241.63 673.7,241.63 673.7,234.81 674.7,234.81 674.7,223.69 675.7,223.69 675.7,232.48 676.7,232.48 676.7,234.77 677.7,234.77 677.7,225.28 678.7,225.28 678.7,226.56 679,226.56 679,249.73 678.7,249.73 678.7,262.11 677.7,262.11 677.7,253.98 676.7,253.98 676.7,258.52 675.7,258.52 675.7,257.48 674.7,257.48 674.7,256.4 673.7,256.4 673.7,263.01 672.7,263.01 672.7,263.87 671.7,263.87 671.7,266.54 670.7,266.54 670.7,264.32 669.7,264.32 669.7,268.05 668.7,268.05 668.7,276.99 667.7,276.99 667.7,272.94 666.7,272.94 666.7,278.95 665.7,278.95 665.7,279.16 664.7,279.16 664.7,278.71 663.7,278.71 663.7,285.26 662.7,285.26 662.7,281.53 661.7,281.53 661.7,281.85 660.7,281.85 660.7,290.18 659.7,290.18 659.7,288.02 658.7,288.02 658.7,286.58 657.7,286.58 657.7,291.04 656.7,291.04 656.7,290.03 655.7,290.03 655.7,287.36 654.7,287.36 654.7,296.66 653.7,296.66 653.7,292.31 652.7,292.31 652.7,291 651.7,291 651.7,295.11 650.7,295.11 650.7,294.77 649.7,294.77 649.7,296.28 648.7,296.28 648.7,299.5 647.7,299.5 647.7,298.34 646.7,298.34 646.7,300.32 645.7,300.32 645.7,300.05 644.7,300.05 644.7,303.49 643.7,303.49 643.7,301.77 642.7,301.77 642.7,305.32 641.7,305.32 641.7,303.26 640.7,303.26 640.7,302.56 639.7,302.56 639.7,306.1 638.7,306.1 638.7,307.63 637.7,307.63 637.7,307.83 636.7,307.83 636.7,310.24 635.7,310.24 635.7,310.38 634.7,310.38 634.7,311.24 633.7,311.24 633.7,308.78 632.7,308.78 632.7,311.09 631.7,311.09 631.7,316.77 630.7,316.77 630.7,315.94 629.7,315.94 629.7,317.22 628.7,317.22 628.7,316.08 627.7,316.08 627.7,315.75 626.7,315.75 626.7,317.26 625.7,317.26 625.7,318.02 624.7,318.02 624.7,317.39 623.7,317.39 623.7,318.49 622.7,318.49 622.7,319.83 621.7,319.83 621.7,319.59 620.7,319.59 620.7,320.88 619.7,320.88 619.7,321.87 618.7,321.87 618.7,321.95 617.7,321.95 617.7,321.79 616.7,321.79 616.7,322.5 615.7,322.5 615.7,323.29 614.7,323.29 614.7,322.93 613.7,322.93 613.7,322.92 612.7,322.92 612.7,326.1 611.7,326.1 611.7,326.15 610.7,326.15 610.7,325.93 609.7,325.93 609.7,326.35 608.7,326.35 608.7,327.09 607.7,327.09 607.7,328.94 606.7,328.94 606.7,327.4 605.7,327.4 605.7,327.14 604.7,327.14 604.7,328.45 603.7,328.45 603.7,330.36 602.7,330.36 602.7,329.58 601.7,329.58 601.7,329.56 600.7,329.56 600.7,330.03 599.7,330.03 599.7,330.44 598.7,330.44 598.7,331.74 597.7,331.74 597.7,332.12 596.7,332.12 596.7,331.74 595.7,331.74 595.7,331.23 594.7,331.23 594.7,331.58 593.7,331.58 593.7,332.43 592.7,332.43 592.7,332.98 591.7,332.98 591.7,333.19 590.7,333.19 590.7,332.83 589.7,332.83 589.7,333.49 588.7,333.49 588.7,333.67 587.7,333.67 587.7,333.67 586.7,333.67 586.7,333.66 585.7,333.66 585.7,334.32 584.7,334.32 584.7,334.69 583.7,334.69 583.7,333.95 582.7,333.95 582.7,334.86 581.7,334.86 581.7,334.89 580.7,334.89 580.7,335.26 579.7,335.26 579.7,335.81 578.7,335.81 578.7,335.83 577.7,335.83 577.7,335.87 576.7,335.87 576.7,336.13 575.7,336.13 575.7,336.26 574.7,336.26 574.7,336.89 573.7,336.89 573.7,336.6 572.7,336.6 572.7,337.12 571.7,337.12 571.7,337.51 570.7,337.51 570.7,338.07 569.7,338.07 569.7,336.93 568.7,336.93 568.7,337.08 567.7,337.08 567.7,337.88 566.7,337.88 566.7,337.73 565.7,337.73 565.7,337.66 564.7,337.66 564.7,337.8 563.7,337.8 563.7,338.41 562.7,338.41 562.7,338.06 561.7,338.06 561.7,338.18 560.7,338.18 560.7,338.14 559.7,338.14 559.7,338.54 558.7,338.54 558.7,338.85 557.7,338.85 557.7,338.98 556.7,338.98 556.7,339.39 555.7,339.39 555.7,338.99 554.7,338.99 554.7,339.16 553.7,339.16 553.7,338.58 552.7,338.58 552.7,339.29 551.7,339.29 551.7,339.38 550.7,339.38 550.7,339.25 549.7,339.25 549.7,339.53 548.7,339.53 548.7,339.3 547.7,339.3 547.7,339.46 546.7,339.46 546.7,339.77 545.7,339.77 545.7,339.74 544.7,339.74 544.7,339.81 543.7,339.81 543.7,339.51 542.7,339.51 542.7,339.82 541.7,339.82 541.7,339.77 540.7,339.77 540.7,340.53 539.7,340.53 539.7,340.14 538.7,340.14 538.7,340.11 537.7,340.11 537.7,340.14 536.7,340.14 536.7,340.54 535.7,340.54 535.7,340.37 534.7,340.37 534.7,340.44 533.7,340.44 533.7,340.54 532.7,340.54 532.7,340.54 531.7,340.54 531.7,340.52 530.7,340.52 530.7,340.66 529.7,340.66 529.7,340.87 528.7,340.87 528.7,340.85 527.7,340.85 527.7,341.11 526.7,341.11 526.7,341.04 525.7,341.04 525.7,341.09 524.7,341.09 524.7,340.83 523.7,340.83 523.7,341.12 522.7,341.12 522.7,341.18 521.7,341.18 521.7,341.09 520.7,341.09 520.7,340.94 519.7,340.94 519.7,341.17 518.7,341.17 518.7,341.28 517.7,341.28 517.7,341.39 516.7,341.39 516.7,341.39 515.7,341.39 515.7,341.48 514.7,341.48 514.7,341.52 513.7,341.52 513.7,341.4 512.7,341.4 512.7,341.45 511.7,341.45 511.7,341.8 510.7,341.8 510.7,341.69 509.7,341.69 509.7,341.61 508.7,341.61 508.7,341.74 507.7,341.74 507.7,341.72 506.7,341.72 506.7,341.78 505.7,341.78 505.7,341.83 504.7,341.83" fill="#0072bd" stroke="#0072bd" stroke-width="0.6" stroke-linejoin="round"/>
<polyline points="679,241.08 678.6,206 679,230 679.4,250" fill="none" stroke="#0072bd" stroke-width="0.9" stroke-linejoin="round" />
<polygon points="504.7,342.36 505.7,342.36 505.7,342.35 506.7,342.35 506.7,342.31 507.7,342.31 507.7,342.3 508.7,342.3 508.7,342.3 509.7,342.3 509.7,342.29 510.7,342.29 510.7,342.25 511.7,342.25 511.7,342.26 512.7,342.26 512.7,342.27 513.7,342.27 513.7,342.26 514.7,342.26 514.7,342.23 515.7,342.23 515.7,342.19 516.7,342.19 516.7,342.17 517.7,342.17 517.7,342.16 518.7,342.16 518.7,342.17 519.7,342.17 519.7,342.16 520.7,342.16 520.7,342.17 521.7,342.17 521.7,342.12 522.7,342.12 522.7,342.05 523.7,342.05 523.7,342.04 524.7,342.04 524.7,342.11 525.7,342.11 525.7,342.03 526.7,342.03 526.7,342 527.7,342 527.7,342.04 528.7,342.04 528.7,342.06 529.7,342.06 529.7,341.87 530.7,341.87 530.7,341.99 531.7,341.99 531.7,341.9 532.7,341.9 532.7,341.9 533.7,341.9 533.7,341.88 534.7,341.88 534.7,341.86 535.7,341.86 535.7,341.78 536.7,341.78 536.7,341.75 537.7,341.75 537.7,341.83 538.7,341.83 538.7,341.75 539.7,341.75 539.7,341.75 540.7,341.75 540.7,341.71 541.7,341.71 541.7,341.77 542.7,341.77 542.7,341.65 543.7,341.65 543.7,341.66 544.7,341.66 544.7,341.6 545.7,341.6 545.7,341.6 546.7,341.6 546.7,341.45 547.7,341.45 547.7,341.47 548.7,341.47 548.7,341.5 549.7,341.5 549.7,341.34 550.7,341.34 550.7,341.38 551.7,341.38 551.7,341.46 552.7,341.46 552.7,341.33 553.7,341.33 553.7,341.28 554.7,341.28 554.7,341.41 555.7,341.41 555.7,341.29 556.7,341.29 556.7,341.33 557.7,341.33 557.7,341.34 558.7,341.34 558.7,341.25 559.7,341.25 559.7,341.23 560.7,341.23 560.7,341.15 561.7,341.15 561.7,341.13 562.7,341.13 562.7,341.11 563.7,341.11 563.7,341.1 564.7,341.1 564.7,340.97 565.7,340.97 565.7,341.01 566.7,341.01 566.7,341.05 567.7,341.05 567.7,340.82 568.7,340.82 568.7,340.76 569.7,340.76 569.7,340.79 570.7,340.79 570.7,340.91 571.7,340.91 571.7,340.8 572.7,340.8 572.7,340.92 573.7,340.92 573.7,340.4 574.7,340.4 574.7,340.9 575.7,340.9 575.7,340.58 576.7,340.58 576.7,340.67 577.7,340.67 577.7,340.6 578.7,340.6 578.7,340.51 579.7,340.51 579.7,340.51 580.7,340.51 580.7,340.58 581.7,340.58 581.7,340.4 582.7,340.4 582.7,340.46 583.7,340.46 583.7,340.27 584.7,340.27 584.7,340.3 585.7,340.3 585.7,340.26 586.7,340.26 586.7,340.2 587.7,340.2 587.7,340.1 588.7,340.1 588.7,339.94 589.7,339.94 589.7,339.97 590.7,339.97 590.7,339.98 591.7,339.98 591.7,339.86 592.7,339.86 592.7,340.04 593.7,340.04 593.7,340.01 594.7,340.01 594.7,339.59 595.7,339.59 595.7,339.84 596.7,339.84 596.7,339.56 597.7,339.56 597.7,339.53 598.7,339.53 598.7,339.53 599.7,339.53 599.7,339.35 600.7,339.35 600.7,339.7 601.7,339.7 601.7,339.55 602.7,339.55 602.7,339.16 603.7,339.16 603.7,339.28 604.7,339.28 604.7,339.3 605.7,339.3 605.7,339 606.7,339 606.7,338.96 607.7,338.96 607.7,339.18 608.7,339.18 608.7,339.12 609.7,339.12 609.7,338.75 610.7,338.75 610.7,338.79 611.7,338.79 611.7,338.72 612.7,338.72 612.7,338.35 613.7,338.35 613.7,338.58 614.7,338.58 614.7,338.67 615.7,338.67 615.7,338.26 616.7,338.26 616.7,337.69 617.7,337.69 617.7,338.23 618.7,338.23 618.7,338.2 619.7,338.2 619.7,337.78 620.7,337.78 620.7,337.78 621.7,337.78 621.7,337.93 622.7,337.93 622.7,337.58 623.7,337.58 623.7,337.05 624.7,337.05 624.7,337.21 625.7,337.21 625.7,336.91 626.7,336.91 626.7,337.3 627.7,337.3 627.7,337.22 628.7,337.22 628.7,336.71 629.7,336.71 629.7,336.85 630.7,336.85 630.7,336.56 631.7,336.56 631.7,336.69 632.7,336.69 632.7,336.11 633.7,336.11 633.7,336.49 634.7,336.49 634.7,336.21 635.7,336.21 635.7,335.84 636.7,335.84 636.7,336.29 637.7,336.29 637.7,335.62 638.7,335.62 638.7,335.82 639.7,335.82 639.7,335.49 640.7,335.49 640.7,335.13 641.7,335.13 641.7,334.85 642.7,334.85 642.7,335.16 643.7,335.16 643.7,334.93 644.7,334.93 644.7,334.51 645.7,334.51 645.7,334.08 646.7,334.08 646.7,334.22 647.7,334.22 647.7,334.56 648.7,334.56 648.7,333.52 649.7,333.52 649.7,333.44 650.7,333.44 650.7,333.19 651.7,333.19 651.7,333.7 652.7,333.7 652.7,332.58 653.7,332.58 653.7,333.07 654.7,333.07 654.7,333 655.7,333 655.7,332.62 656.7,332.62 656.7,332.63 657.7,332.63 657.7,332.55 658.7,332.55 658.7,331.9 659.7,331.9 659.7,330.48 660.7,330.48 660.7,331.15 661.7,331.15 661.7,330.67 662.7,330.67 662.7,331.62 663.7,331.62 663.7,330.95 664.7,330.95 664.7,329.67 665.7,329.67 665.7,329.67 666.7,329.67 666.7,329.47 667.7,329.47 667.7,329.25 668.7,329.25 668.7,328.87 669.7,328.87 669.7,329.33 670.7,329.33 670.7,328.8 671.7,328.8 671.7,328.6 672.7,328.6 672.7,327.71 673.7,327.71 673.7,328.63 674.7,328.63 674.7,326.67 675.7,326.67 675.7,326.2 676.7,326.2 676.7,326.51 677.7,326.51 677.7,326 678.7,326 678.7,326.14 679.7,326.14 679.7,326.88 679.9,326.88 679.9,330.49 679.7,330.49 679.7,330.59 678.7,330.59 678.7,331.39 677.7,331.39 677.7,331.86 676.7,331.86 676.7,331.58 675.7,331.58 675.7,331.45 674.7,331.45 674.7,331.49 673.7,331.49 673.7,331.8 672.7,331.8 672.7,331.69 671.7,331.69 671.7,333.67 670.7,333.67 670.7,333.82 669.7,333.82 669.7,333.84 668.7,333.84 668.7,333.36 667.7,333.36 667.7,333.99 666.7,333.99 666.7,333.34 665.7,333.34 665.7,334.13 664.7,334.13 664.7,334.46 663.7,334.46 663.7,334.41 662.7,334.41 662.7,334.68 661.7,334.68 661.7,334.77 660.7,334.77 660.7,334.66 659.7,334.66 659.7,335.58 658.7,335.58 658.7,335 657.7,335 657.7,335.44 656.7,335.44 656.7,336.24 655.7,336.24 655.7,336.2 654.7,336.2 654.7,336.24 653.7,336.24 653.7,336.42 652.7,336.42 652.7,336.1 651.7,336.1 651.7,336.71 650.7,336.71 650.7,337.17 649.7,337.17 649.7,336.46 648.7,336.46 648.7,336.83 647.7,336.83 647.7,336.7 646.7,336.7 646.7,337.25 645.7,337.25 645.7,337.45 644.7,337.45 644.7,337.04 643.7,337.04 643.7,337.69 642.7,337.69 642.7,337.5 641.7,337.5 641.7,337.91 640.7,337.91 640.7,337.89 639.7,337.89 639.7,338.09 638.7,338.09 638.7,338.33 637.7,338.33 637.7,338.57 636.7,338.57 636.7,338.34 635.7,338.34 635.7,338.51 634.7,338.51 634.7,338.51 633.7,338.51 633.7,338.69 632.7,338.69 632.7,338.95 631.7,338.95 631.7,338.89 630.7,338.89 630.7,339.3 629.7,339.3 629.7,339.31 628.7,339.31 628.7,339.33 627.7,339.33 627.7,339.21 626.7,339.21 626.7,339.38 625.7,339.38 625.7,339.46 624.7,339.46 624.7,339.45 623.7,339.45 623.7,339.76 622.7,339.76 622.7,340.03 621.7,340.03 621.7,340.1 620.7,340.1 620.7,340.02 619.7,340.02 619.7,339.67 618.7,339.67 618.7,340.07 617.7,340.07 617.7,340.03 616.7,340.03 616.7,340.32 615.7,340.32 615.7,340.19 614.7,340.19 614.7,340.3 613.7,340.3 613.7,340.47 612.7,340.47 612.7,340.68 611.7,340.68 611.7,340.7 610.7,340.7 610.7,340.87 609.7,340.87 609.7,340.82 608.7,340.82 608.7,341.15 607.7,341.15 607.7,340.99 606.7,340.99 606.7,340.98 605.7,340.98 605.7,340.88 604.7,340.88 604.7,341.11 603.7,341.11 603.7,341.02 602.7,341.02 602.7,341.11 601.7,341.11 601.7,341.21 600.7,341.21 600.7,341.3 599.7,341.3 599.7,341.27 598.7,341.27 598.7,341.25 597.7,341.25 597.7,341.47 596.7,341.47 596.7,341.42 595.7,341.42 595.7,341.58 594.7,341.58 594.7,341.4 593.7,341.4 593.7,341.46 592.7,341.46 592.7,341.41 591.7,341.41 591.7,341.65 590.7,341.65 590.7,341.74 589.7,341.74 589.7,341.58 588.7,341.58 588.7,341.73 587.7,341.73 587.7,341.74 586.7,341.74 586.7,341.73 585.7,341.73 585.7,341.74 584.7,341.74 584.7,341.77 583.7,341.77 583.7,341.88 582.7,341.88 582.7,341.85 581.7,341.85 581.7,342 580.7,342 580.7,341.9 579.7,341.9 579.7,342.01 578.7,342.01 578.7,342.06 577.7,342.06 577.7,342.15 576.7,342.15 576.7,342.25 575.7,342.25 575.7,342.14 574.7,342.14 574.7,342.18 573.7,342.18 573.7,342.13 572.7,342.13 572.7,342.21 571.7,342.21 571.7,342.28 570.7,342.28 570.7,342.37 569.7,342.37 569.7,342.34 568.7,342.34 568.7,342.24 567.7,342.24 567.7,342.42 566.7,342.42 566.7,342.38 565.7,342.38 565.7,342.44 564.7,342.44 564.7,342.44 563.7,342.44 563.7,342.56 562.7,342.56 562.7,342.55 561.7,342.55 561.7,342.57 560.7,342.57 560.7,342.48 559.7,342.48 559.7,342.54 558.7,342.54 558.7,342.75 557.7,342.75 557.7,342.61 556.7,342.61 556.7,342.59 555.7,342.59 555.7,342.68 554.7,342.68 554.7,342.64 553.7,342.64 553.7,342.72 552.7,342.72 552.7,342.7 551.7,342.7 551.7,342.65 550.7,342.65 550.7,342.73 549.7,342.73 549.7,342.72 548.7,342.72 548.7,342.83 547.7,342.83 547.7,342.91 546.7,342.91 546.7,342.84 545.7,342.84 545.7,342.88 544.7,342.88 544.7,342.89 543.7,342.89 543.7,342.92 542.7,342.92 542.7,342.96 541.7,342.96 541.7,342.91 540.7,342.91 540.7,342.93 539.7,342.93 539.7,342.98 538.7,342.98 538.7,342.99 537.7,342.99 537.7,343.06 536.7,343.06 536.7,343.05 535.7,343.05 535.7,343.07 534.7,343.07 534.7,343.05 533.7,343.05 533.7,343.1 532.7,343.1 532.7,343.12 531.7,343.12 531.7,343.12 530.7,343.12 530.7,343.16 529.7,343.16 529.7,343.16 528.7,343.16 528.7,343.2 527.7,343.2 527.7,343.16 526.7,343.16 526.7,343.21 525.7,343.21 525.7,343.22 524.7,343.22 524.7,343.23 523.7,343.23 523.7,343.22 522.7,343.22 522.7,343.25 521.7,343.25 521.7,343.26 520.7,343.26 520.7,343.28 519.7,343.28 519.7,343.3 518.7,343.3 518.7,343.3 517.7,343.3 517.7,343.3 516.7,343.3 516.7,343.3 515.7,343.3 515.7,343.3 514.7,343.3 514.7,343.3 513.7,343.3 513.7,343.3 512.7,343.3 512.7,343.3 511.7,343.3 511.7,343.3 510.7,343.3 510.7,343.3 509.7,343.3 509.7,343.3 508.7,343.3 508.7,343.3 507.7,343.3 507.7,343.3 506.7,343.3 506.7,343.3 505.7,343.3 505.7,343.3 504.7,343.3" fill="#ff0000" stroke="#ff0000" stroke-width="0.6" stroke-linejoin="round"/>
<text x="504.7" y="357" font-size="10.5" text-anchor="middle" fill="#111" stroke="#111" stroke-width="0.1" font-weight="normal" >0</text>
<text x="527.16" y="357" font-size="10.5" text-anchor="middle" fill="#111" stroke="#111" stroke-width="0.1" font-weight="normal" >5</text>
<text x="549.62" y="357" font-size="10.5" text-anchor="middle" fill="#111" stroke="#111" stroke-width="0.1" font-weight="normal" >10</text>
<text x="572.08" y="357" font-size="10.5" text-anchor="middle" fill="#111" stroke="#111" stroke-width="0.1" font-weight="normal" >15</text>
<text x="594.55" y="357" font-size="10.5" text-anchor="middle" fill="#111" stroke="#111" stroke-width="0.1" font-weight="normal" >20</text>
<text x="617.01" y="357" font-size="10.5" text-anchor="middle" fill="#111" stroke="#111" stroke-width="0.1" font-weight="normal" >25</text>
<text x="639.47" y="357" font-size="10.5" text-anchor="middle" fill="#111" stroke="#111" stroke-width="0.1" font-weight="normal" >30</text>
<text x="661.93" y="357" font-size="10.5" text-anchor="middle" fill="#111" stroke="#111" stroke-width="0.1" font-weight="normal" >35</text>
<text x="499.9" y="347.6" font-size="10.5" text-anchor="end" fill="#111" stroke="#111" stroke-width="0.1" font-weight="normal" >0</text>
<text x="499.9" y="327.94" font-size="10.5" text-anchor="end" fill="#111" stroke="#111" stroke-width="0.1" font-weight="normal" >5</text>
<text x="499.9" y="308.29" font-size="10.5" text-anchor="end" fill="#111" stroke="#111" stroke-width="0.1" font-weight="normal" >10</text>
<text x="499.9" y="288.63" font-size="10.5" text-anchor="end" fill="#111" stroke="#111" stroke-width="0.1" font-weight="normal" >15</text>
<text x="499.9" y="268.97" font-size="10.5" text-anchor="end" fill="#111" stroke="#111" stroke-width="0.1" font-weight="normal" >20</text>
<text x="499.9" y="249.31" font-size="10.5" text-anchor="end" fill="#111" stroke="#111" stroke-width="0.1" font-weight="normal" >25</text>
<text x="499.9" y="229.66" font-size="10.5" text-anchor="end" fill="#111" stroke="#111" stroke-width="0.1" font-weight="normal" >30</text>
<text x="499.9" y="210" font-size="10.5" text-anchor="end" fill="#111" stroke="#111" stroke-width="0.1" font-weight="normal" >35</text>
<text x="478.6" y="271.9" font-size="11.3" text-anchor="middle" fill="#111" stroke="#111" stroke-width="0.1" font-weight="normal" transform="rotate(-90 478.6 271.9)">Uncertainty (°C)</text>
<text x="592.3" y="371" font-size="12.35" text-anchor="middle" fill="#111" stroke="#111" stroke-width="0.1" font-weight="normal" >Distance (km)</text>
<text x="470" y="205.8" font-size="14" text-anchor="start" fill="#000" stroke="#000" stroke-width="0.1" font-weight="bold" >f</text>
<line x1="511.3" y1="218.5" x2="523.9" y2="218.5" stroke="#0072bd" stroke-width="1.2" />
<text x="527.8" y="221.9" font-size="9.5" text-anchor="start" fill="#111" stroke="#111" stroke-width="0.1" font-weight="normal" >Single pulse, 1 m</text>
<line x1="511.3" y1="231.5" x2="523.9" y2="231.5" stroke="#ff0000" stroke-width="1.2" />
<text x="527.8" y="234.8" font-size="9.5" text-anchor="start" fill="#111" stroke="#111" stroke-width="0.1" font-weight="normal" >GO code, 1 m</text>
<text x="618.3" y="235.8" font-size="11" text-anchor="start" fill="#0072bd" stroke="#0072bd" stroke-width="0.1" font-weight="normal" >28.2 °C</text>
<text x="569.5" y="312.2" font-size="11" text-anchor="start" fill="#ff0000" stroke="#ff0000" stroke-width="0.1" font-weight="normal" >3.9 °C</text>
<line x1="673.2" y1="237.1" x2="658.2" y2="234.7" stroke="#0072bd" stroke-width="0.8" />
<polygon points="658.2,234.7 663.48,233.32 662.79,237.66" fill="#0072bd"/>
<line x1="676.2" y1="327.1" x2="603" y2="312.1" stroke="#ff0000" stroke-width="0.8" />
<polygon points="603,312.1 608.34,310.95 607.46,315.26" fill="#ff0000"/>
</svg>
</body></html>
